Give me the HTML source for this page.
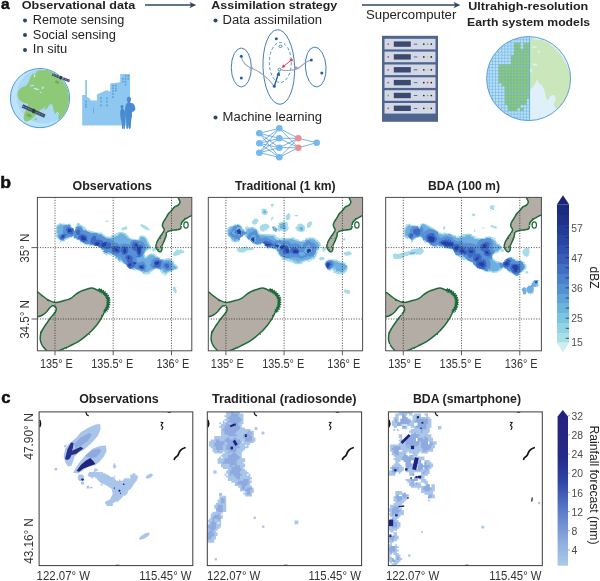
<!DOCTYPE html><html><head><meta charset="utf-8"><title>Figure</title><style>html,body{margin:0;padding:0;background:#fff}svg{display:block}text{font-family:'Liberation Sans', sans-serif}</style></head><body>
<svg width="600" height="581" viewBox="0 0 600 581">
<defs><filter id="bl" x="-10%" y="-10%" width="120%" height="120%"><feTurbulence type="fractalNoise" baseFrequency="0.11" numOctaves="1" seed="7" result="n"/><feDisplacementMap in="SourceGraphic" in2="n" scale="6" xChannelSelector="R" yChannelSelector="G" result="d"/><feGaussianBlur in="d" stdDeviation="0.6"/></filter><filter id="rough" x="-5%" y="-5%" width="110%" height="110%"><feTurbulence type="fractalNoise" baseFrequency="0.35" numOctaves="2" seed="4" result="n"/><feDisplacementMap in="SourceGraphic" in2="n" scale="1.8" xChannelSelector="R" yChannelSelector="G"/></filter><filter id="bl2"><feGaussianBlur stdDeviation="0.35"/></filter></defs>
<rect width="600" height="581" fill="#fff"/>
<text x="0.9" y="9.3" font-size="15.5" fill="#111" textLength="8.6" lengthAdjust="spacingAndGlyphs" font-weight="700" stroke="#111" stroke-width="0.5">a</text>
<text x="21.7" y="9.3" font-size="11.6" fill="#222" textLength="113.5" lengthAdjust="spacingAndGlyphs" font-weight="700" >Observational data</text>
<circle cx="25" cy="20.4" r="2" fill="#2f4468"/>
<text x="32.8" y="23.8" font-size="12.0" fill="#222" textLength="91.5" lengthAdjust="spacingAndGlyphs" >Remote sensing</text>
<circle cx="25" cy="35.1" r="2" fill="#2f4468"/>
<text x="32.8" y="38.5" font-size="12.0" fill="#222" textLength="83.0" lengthAdjust="spacingAndGlyphs" >Social sensing</text>
<circle cx="25" cy="49.9" r="2" fill="#2f4468"/>
<text x="32.8" y="53.3" font-size="12.0" fill="#222" textLength="34.5" lengthAdjust="spacingAndGlyphs" >In situ</text>
<path d="M145.0 5.1 H194.2" stroke="#2f4468" stroke-width="1.5" fill="none"/>
<path d="M196.2 5.1 L189.4 1.9 L191.2 5.1 L189.4 8.3 Z" fill="#2f4468"/>
<path d="M362.0 5.1 H458.3" stroke="#2f4468" stroke-width="1.5" fill="none"/>
<path d="M460.3 5.1 L453.5 1.9 L455.3 5.1 L453.5 8.3 Z" fill="#2f4468"/>
<text x="211.3" y="9.3" font-size="11.6" fill="#222" textLength="126.0" lengthAdjust="spacingAndGlyphs" font-weight="700" >Assimilation strategy</text>
<circle cx="215.5" cy="20.4" r="2" fill="#2f4468"/>
<text x="222.5" y="23.8" font-size="12.0" fill="#222" textLength="99.5" lengthAdjust="spacingAndGlyphs" >Data assimilation</text>
<circle cx="215.5" cy="117.4" r="2" fill="#2f4468"/>
<text x="222.5" y="121.0" font-size="12.0" fill="#222" textLength="99.5" lengthAdjust="spacingAndGlyphs" >Machine learning</text>
<text x="366.0" y="19.1" font-size="12.0" fill="#222" textLength="90.3" lengthAdjust="spacingAndGlyphs" >Supercomputer</text>
<text x="468.3" y="10.1" font-size="11.6" fill="#222" textLength="120.0" lengthAdjust="spacingAndGlyphs" font-weight="700" >Ultrahigh-resolution</text>
<text x="467.1" y="25.5" font-size="11.6" fill="#222" textLength="123.0" lengthAdjust="spacingAndGlyphs" font-weight="700" >Earth system models</text>
<g>
<circle cx="40" cy="98.1" r="29.6" fill="#bfe3f8" stroke="#4a9bdc" stroke-width="1"/>
<clipPath id="g1"><circle cx="40" cy="98.1" r="29.1"/></clipPath>
<g clip-path="url(#g1)">
<circle cx="44" cy="96" r="27.5" fill="#a9d9f5"/>
<path d="M28.2 82.7 C29.0 81.5 29.5 79.7 30.1 78.3 C30.8 77.0 31.1 75.4 32.0 74.6 C33.0 73.7 34.8 73.9 35.8 73.3 C36.7 72.7 36.5 71.3 37.7 70.8 C38.8 70.3 41.0 70.3 42.7 70.2 C44.4 70.0 46.2 69.6 47.7 69.8 C49.2 70.0 50.2 70.7 51.5 71.4 C52.7 72.1 53.8 72.8 55.3 73.9 C56.7 75.1 58.6 76.6 60.3 78.3 C62.0 80.1 63.9 82.5 65.3 84.6 C66.7 86.7 67.7 88.8 68.4 90.9 C69.2 93.0 69.6 95.1 69.7 97.2 C69.8 99.3 69.5 101.4 69.1 103.5 C68.7 105.6 68.0 107.9 67.2 109.7 C66.3 111.6 65.1 113.1 64.0 114.8 C63.0 116.4 61.7 118.8 60.9 119.8 C60.1 120.7 59.4 120.9 59.0 120.4 C58.6 119.9 58.4 117.8 58.4 116.6 C58.4 115.5 59.2 114.3 59.0 113.5 C58.8 112.7 57.7 111.5 57.1 111.6 C56.5 111.7 56.0 114.1 55.5 114.1 C55.0 114.1 54.4 112.8 54.0 111.6 C53.6 110.5 53.4 108.5 53.0 107.2 C52.6 106.0 52.1 104.4 51.5 104.1 C50.9 103.8 50.0 104.6 49.2 105.3 C48.5 106.1 47.9 107.7 47.1 108.5 C46.3 109.2 44.8 110.2 44.6 109.7 C44.4 109.3 45.9 106.3 45.8 106.0 C45.7 105.7 44.8 107.2 43.9 107.9 C43.1 108.5 41.9 109.0 40.8 109.7 C39.8 110.5 38.6 111.3 37.7 112.3 C36.7 113.2 36.1 114.3 35.2 115.4 C34.2 116.5 33.1 117.9 32.0 118.8 C31.0 119.7 30.0 120.4 28.9 120.8 C27.7 121.2 26.0 121.9 25.1 121.3 C24.2 120.7 23.6 118.8 23.6 117.3 C23.6 115.8 24.3 113.5 24.8 112.3 C25.4 111.0 26.4 110.5 27.0 109.5 C27.6 108.4 28.3 107.0 28.2 106.0 C28.2 105.0 27.3 104.0 26.6 103.5 C25.9 102.9 25.0 103.5 23.8 102.8 C22.7 102.2 20.5 100.9 19.4 99.7 C18.4 98.4 17.8 96.7 17.6 95.3 C17.4 93.9 17.6 92.8 18.2 91.5 C18.8 90.3 20.1 88.7 21.3 87.8 C22.6 86.8 24.6 86.7 25.7 85.9 C26.9 85.0 27.5 84.0 28.2 82.7Z" fill="#8dc977"/>
<g fill="#c4e5f6">
<ellipse cx="32.0" cy="85.6" rx="2.5" ry="0.6" transform="rotate(-10 32.0 85.6)"/>
<ellipse cx="36.4" cy="89.0" rx="3.0" ry="0.8" transform="rotate(15 36.4 89.0)"/>
<ellipse cx="42.7" cy="87.8" rx="0.9" ry="1.5" transform="rotate(20 42.7 87.8)"/>
<ellipse cx="40.8" cy="92.4" rx="1.0" ry="0.6" transform="rotate(0 40.8 92.4)"/>
<ellipse cx="34.5" cy="75.8" rx="0.8" ry="1.8" transform="rotate(10 34.5 75.8)"/>
</g>
<g fill="#8dc977">
<ellipse cx="35.8" cy="119.2" rx="1.5" ry="0.9" transform="rotate(-30 35.8 119.2)"/>
</g>
<g fill="#6fae5e">
<ellipse cx="57.1" cy="82.1" rx="2.3" ry="1.5" transform="rotate(20 57.1 82.1)"/>
<ellipse cx="28.9" cy="115.4" rx="2.8" ry="1.5" transform="rotate(20 28.9 115.4)"/>
</g>
</g>
<g transform="translate(60.9 77.7) rotate(21.0)">
<rect x="-9.3" y="-1.3" width="7.1" height="2.6" fill="#3f4a68"/>
<rect x="2.2" y="-1.3" width="7.1" height="2.6" fill="#3f4a68"/>
<path d="M-8.5 0 H-2.5 M2.5 0 H8.5" stroke="#b6bdd2" stroke-width="0.7" stroke-dasharray="0.9 0.9"/>
<circle r="1.8" fill="#2f3854"/>
</g>
<g transform="translate(33.6 111.0) rotate(24.5)">
<rect x="-12.3" y="-1.8" width="10.1" height="3.6" fill="#3f4a68"/>
<rect x="2.2" y="-1.8" width="10.1" height="3.6" fill="#3f4a68"/>
<path d="M-11.5 0 H-2.5 M2.5 0 H11.5" stroke="#b6bdd2" stroke-width="0.7" stroke-dasharray="0.9 0.9"/>
<circle r="2.3" fill="#2f3854"/>
</g>
</g>
<path d="M82.2 125.5 L82.2 95.0 L85.2 95.0 L85.2 80.1 L87.0 80.1 L87.0 96.9 L89.0 97.7 L91.0 100.5 L96.9 100.5 L96.9 94.4 L106.9 90.0 L110.2 91.7 L110.2 83.4 L120.2 82.3 L120.2 74.1 L130.0 74.1 L130.0 125.5Z" fill="#8ec7ef"/>
<rect x="124.8" y="75.1" width="1.6" height="1.7" fill="#5a9ddd"/>
<rect x="127.5" y="75.1" width="1.6" height="1.7" fill="#5a9ddd"/>
<rect x="122.1" y="77.9" width="1.6" height="1.7" fill="#5a9ddd"/>
<rect x="124.8" y="77.9" width="1.6" height="1.7" fill="#5a9ddd"/>
<rect x="127.5" y="77.9" width="1.6" height="1.7" fill="#5a9ddd"/>
<rect x="122.1" y="80.8" width="1.6" height="1.7" fill="#5a9ddd"/>
<rect x="124.8" y="80.8" width="1.6" height="1.7" fill="#5a9ddd"/>
<rect x="124.8" y="83.7" width="1.6" height="1.7" fill="#5a9ddd"/>
<rect x="112.2" y="84.8" width="1.6" height="1.7" fill="#5a9ddd"/>
<rect x="115.0" y="84.8" width="1.6" height="1.7" fill="#5a9ddd"/>
<rect x="112.2" y="87.5" width="1.6" height="1.7" fill="#5a9ddd"/>
<rect x="115.0" y="87.5" width="1.6" height="1.7" fill="#5a9ddd"/>
<rect x="112.2" y="90.3" width="1.6" height="1.7" fill="#5a9ddd"/>
<rect x="115.0" y="89.7" width="1.6" height="1.7" fill="#5a9ddd"/>
<rect x="112.2" y="93.0" width="1.6" height="1.7" fill="#5a9ddd"/>
<rect x="112.2" y="96.3" width="1.6" height="1.7" fill="#5a9ddd"/>
<rect x="100.3" y="97.4" width="1.6" height="1.7" fill="#5a9ddd"/>
<rect x="106.1" y="97.4" width="1.6" height="1.7" fill="#5a9ddd"/>
<rect x="100.3" y="100.7" width="1.6" height="1.7" fill="#5a9ddd"/>
<rect x="106.1" y="100.7" width="1.6" height="1.7" fill="#5a9ddd"/>
<rect x="100.3" y="104.6" width="1.6" height="1.7" fill="#5a9ddd"/>
<rect x="106.1" y="104.6" width="1.6" height="1.7" fill="#5a9ddd"/>
<rect x="85.1" y="100.7" width="1.6" height="1.7" fill="#5a9ddd"/>
<rect x="85.1" y="103.5" width="1.6" height="1.7" fill="#5a9ddd"/>
<rect x="85.1" y="105.9" width="1.6" height="1.7" fill="#5a9ddd"/>
<rect x="93.1" y="107.5" width="0.7" height="5.6" fill="#5a9ddd"/>
<path d="M126.5 128.0 C126.1 126.8 126.4 122.8 126.2 120.9 C126.1 118.9 125.8 117.9 125.6 116.5 C125.4 115.0 125.2 113.7 125.1 112.1 C125.1 110.4 125.1 108.0 125.4 106.5 C125.6 105.1 126.1 104.2 126.5 103.5 C126.9 102.8 127.7 102.9 127.8 102.4 C127.9 101.9 127.0 101.2 126.9 100.5 C126.8 99.8 126.8 98.9 127.0 98.3 C127.2 97.7 127.7 97.2 128.1 97.0 C128.6 96.7 129.3 96.7 129.8 97.0 C130.2 97.2 130.7 97.7 130.9 98.3 C131.0 98.9 131.0 99.8 130.9 100.5 C130.8 101.2 129.8 101.9 130.2 102.4 C130.6 102.9 132.3 102.9 133.1 103.5 C133.8 104.1 134.4 105.0 134.7 106.0 C135.1 107.0 135.5 108.4 135.3 109.3 C135.1 110.2 134.1 111.0 133.6 111.5 C133.1 112.0 132.5 111.2 132.2 112.1 C131.9 112.9 132.1 115.0 132.0 116.5 C131.8 117.9 131.3 118.9 131.1 120.9 C130.9 122.8 131.0 126.8 130.6 128.0 C130.2 129.2 129.0 129.4 128.7 128.0 C128.3 126.6 128.5 119.8 128.4 119.8 C128.3 119.8 128.4 126.6 128.1 128.0 C127.8 129.4 126.8 129.2 126.5 128.0Z" fill="#4a8bd0"/>
<path d="M122.1 128.4 C121.8 127.5 122.1 124.7 121.8 123.1 C121.6 121.5 121.0 120.1 120.7 118.7 C120.5 117.2 120.2 115.6 120.2 114.3 C120.1 112.9 120.2 111.3 120.4 110.4 C120.6 109.5 121.2 109.2 121.3 108.7 C121.3 108.3 120.7 107.9 120.6 107.4 C120.5 106.9 120.5 106.2 120.7 105.8 C120.9 105.4 121.4 104.9 121.8 104.9 C122.2 104.8 122.9 105.1 123.2 105.4 C123.4 105.8 123.5 106.6 123.5 107.1 C123.4 107.6 122.8 108.1 122.9 108.5 C123.1 109.0 123.8 108.9 124.3 109.9 C124.7 110.8 125.4 112.6 125.6 114.3 C125.8 115.9 125.5 117.4 125.4 119.8 C125.2 122.1 125.1 126.9 124.8 128.4 C124.5 129.8 123.9 129.4 123.7 128.4 C123.5 127.3 123.5 122.0 123.4 122.0 C123.3 122.0 123.4 127.3 123.2 128.4 C122.9 129.4 122.3 129.2 122.1 128.4Z" fill="#4a8bd0"/>
<g fill="none" stroke="#2e72b5" stroke-width="0.9">
<ellipse cx="241.3" cy="67.5" rx="10" ry="19.5"/>
<ellipse cx="278.8" cy="67" rx="15.8" ry="37.3" transform="rotate(-2 278.8 67)"/>
<ellipse cx="315.7" cy="67" rx="10.3" ry="20" transform="rotate(-4 315.7 67)"/>
<ellipse cx="280.3" cy="62.5" rx="11" ry="20" stroke-dasharray="3 2.2" stroke="#3a86c4"/>
</g>
<g fill="none" stroke="#9aa0bf" stroke-width="1.1">
<path d="M241.3 56.3 C242 62 246 66 252 68.5 C262 72 268 78 274.3 86.3"/>
<path d="M279.5 69.5 C286 71.5 296 70.5 300 67 C304 63.5 307 61 311.3 60"/>
</g>
<path d="M253.5 69 L249 69.5 L251.5 65.5Z" fill="#9aa0bf"/>
<path d="M298.2 67.6 L294.2 65.6 L294.6 70Z" fill="#9aa0bf"/>
<path d="M274.3 86.3 L278.6 73" stroke="#1f5fa8" stroke-width="1.3" fill="none"/>
<path d="M279.2 71 L276.4 75 L280.2 76Z" fill="#1f5fa8"/>
<path d="M291.3 60 L283 66.8" stroke="#e0454f" stroke-width="1" fill="none"/>
<path d="M281.5 68 L285.5 67 L283.3 64.3Z" fill="#e0454f"/>
<circle cx="241.3" cy="56.3" r="1.5" fill="#1f5fa8"/>
<circle cx="241.3" cy="78.0" r="1.5" fill="#1f5fa8"/>
<circle cx="276.3" cy="38.8" r="1.5" fill="#1f5fa8"/>
<circle cx="274.3" cy="86.3" r="1.5" fill="#1f5fa8"/>
<circle cx="311.3" cy="60.0" r="1.5" fill="#1f5fa8"/>
<circle cx="321.8" cy="73.0" r="1.5" fill="#1f5fa8"/>
<circle cx="291.3" cy="60" r="1.6" fill="#e0454f"/>
<ellipse cx="280.5" cy="46.3" rx="1.6" ry="1.2" fill="#fff" stroke="#1f5fa8" stroke-width="0.7"/>
<circle cx="279.5" cy="69.5" r="1.4" fill="#fff" stroke="#1f5fa8" stroke-width="0.7"/>
<g stroke="#3f8fd6" stroke-width="0.7">
<line x1="259.3" y1="133.3" x2="279.3" y2="128.3"/>
<line x1="259.3" y1="133.3" x2="279.3" y2="138.3"/>
<line x1="259.3" y1="133.3" x2="279.3" y2="147.7"/>
<line x1="259.3" y1="133.3" x2="279.3" y2="157.3"/>
<line x1="259.3" y1="143.3" x2="279.3" y2="128.3"/>
<line x1="259.3" y1="143.3" x2="279.3" y2="138.3"/>
<line x1="259.3" y1="143.3" x2="279.3" y2="147.7"/>
<line x1="259.3" y1="143.3" x2="279.3" y2="157.3"/>
<line x1="259.3" y1="152.7" x2="279.3" y2="128.3"/>
<line x1="259.3" y1="152.7" x2="279.3" y2="138.3"/>
<line x1="259.3" y1="152.7" x2="279.3" y2="147.7"/>
<line x1="259.3" y1="152.7" x2="279.3" y2="157.3"/>
<line x1="279.3" y1="128.3" x2="298.3" y2="138.3"/>
<line x1="279.3" y1="128.3" x2="298.3" y2="147.7"/>
<line x1="279.3" y1="138.3" x2="298.3" y2="138.3"/>
<line x1="279.3" y1="138.3" x2="298.3" y2="147.7"/>
<line x1="279.3" y1="147.7" x2="298.3" y2="138.3"/>
<line x1="279.3" y1="147.7" x2="298.3" y2="147.7"/>
<line x1="279.3" y1="157.3" x2="298.3" y2="138.3"/>
<line x1="279.3" y1="157.3" x2="298.3" y2="147.7"/>
<line x1="298.3" y1="138.3" x2="316.7" y2="142.7"/>
<line x1="298.3" y1="147.7" x2="316.7" y2="142.7"/>
</g>
<circle cx="259.3" cy="133.3" r="3.3" fill="#74b9ec"/>
<circle cx="259.3" cy="143.3" r="3.3" fill="#74b9ec"/>
<circle cx="259.3" cy="152.7" r="3.3" fill="#74b9ec"/>
<circle cx="279.3" cy="128.3" r="3.3" fill="#74b9ec"/>
<circle cx="279.3" cy="138.3" r="3.3" fill="#74b9ec"/>
<circle cx="279.3" cy="147.7" r="3.3" fill="#74b9ec"/>
<circle cx="279.3" cy="157.3" r="3.3" fill="#74b9ec"/>
<circle cx="316.7" cy="142.7" r="3.3" fill="#74b9ec"/>
<circle cx="298.3" cy="138.3" r="3.3" fill="#ec8f93"/>
<circle cx="298.3" cy="147.7" r="3.3" fill="#ec8f93"/>
<rect x="382" y="35.8" width="56" height="86" fill="#4f648f"/>
<rect x="384.5" y="38.8" width="51" height="10.6" fill="#d3d8e6"/>
<circle cx="388.2" cy="44.1" r="0.9" fill="#e0454f"/>
<rect x="393.8" y="41.4" width="17" height="5.4" fill="#3b4a6e"/>
<rect x="413.8" y="43.7" width="3.6" height="0.9" fill="#4f648f"/>
<circle cx="423.8" cy="44.1" r="0.85" fill="#222"/>
<circle cx="427.6" cy="44.1" r="0.85" fill="#5cc05c"/>
<circle cx="431.3" cy="44.1" r="0.85" fill="#222"/>
<rect x="384.5" y="51.6" width="51" height="10.6" fill="#d3d8e6"/>
<circle cx="388.2" cy="56.9" r="0.9" fill="#e0454f"/>
<rect x="393.8" y="54.2" width="17" height="5.4" fill="#3b4a6e"/>
<rect x="413.8" y="56.5" width="3.6" height="0.9" fill="#4f648f"/>
<circle cx="423.8" cy="56.9" r="0.85" fill="#222"/>
<circle cx="427.6" cy="56.9" r="0.85" fill="#e8c84a"/>
<circle cx="431.3" cy="56.9" r="0.85" fill="#222"/>
<rect x="384.5" y="64.5" width="51" height="10.6" fill="#d3d8e6"/>
<circle cx="388.2" cy="69.8" r="0.9" fill="#e0454f"/>
<rect x="393.8" y="67.1" width="17" height="5.4" fill="#3b4a6e"/>
<rect x="413.8" y="69.4" width="3.6" height="0.9" fill="#4f648f"/>
<circle cx="423.8" cy="69.8" r="0.85" fill="#222"/>
<circle cx="427.6" cy="69.8" r="0.85" fill="#e8c84a"/>
<circle cx="431.3" cy="69.8" r="0.85" fill="#222"/>
<rect x="384.5" y="77.3" width="51" height="10.6" fill="#d3d8e6"/>
<circle cx="388.2" cy="82.6" r="0.9" fill="#e0454f"/>
<rect x="393.8" y="79.9" width="17" height="5.4" fill="#3b4a6e"/>
<rect x="413.8" y="82.2" width="3.6" height="0.9" fill="#4f648f"/>
<circle cx="423.8" cy="82.6" r="0.85" fill="#222"/>
<circle cx="427.6" cy="82.6" r="0.85" fill="#e0454f"/>
<circle cx="431.3" cy="82.6" r="0.85" fill="#222"/>
<rect x="384.5" y="90.2" width="51" height="10.6" fill="#d3d8e6"/>
<circle cx="388.2" cy="95.5" r="0.9" fill="#5cc05c"/>
<rect x="393.8" y="92.8" width="17" height="5.4" fill="#3b4a6e"/>
<rect x="413.8" y="95.1" width="3.6" height="0.9" fill="#4f648f"/>
<circle cx="423.8" cy="95.5" r="0.85" fill="#222"/>
<circle cx="427.6" cy="95.5" r="0.85" fill="#5cc05c"/>
<circle cx="431.3" cy="95.5" r="0.85" fill="#222"/>
<rect x="384.5" y="103.0" width="51" height="10.6" fill="#d3d8e6"/>
<circle cx="388.2" cy="108.3" r="0.9" fill="#e0454f"/>
<rect x="393.8" y="105.6" width="17" height="5.4" fill="#3b4a6e"/>
<rect x="413.8" y="108.0" width="3.6" height="0.9" fill="#4f648f"/>
<circle cx="423.8" cy="108.3" r="0.85" fill="#222"/>
<circle cx="427.6" cy="108.3" r="0.85" fill="#e8c84a"/>
<circle cx="431.3" cy="108.3" r="0.85" fill="#222"/>
<clipPath id="g2"><circle cx="528.6" cy="78.6" r="42.0"/></clipPath>
<clipPath id="g2l"><rect x="480" y="30" width="49.6" height="100"/></clipPath>
<g clip-path="url(#g2)">
<rect x="480" y="30" width="100" height="100" fill="#e0f0fb"/>
<rect x="480" y="30" width="49.6" height="100" fill="#b9e0f6"/>
<path d="M529.7 41.7 C530.6 33.6 533.0 39.9 535.0 39.7 C537.0 39.4 539.2 39.2 541.7 40.0 C544.2 40.8 547.2 42.2 550.0 44.2 C552.8 46.1 555.8 48.8 558.3 51.7 C560.8 54.6 563.2 58.3 565.0 61.7 C566.8 65.0 568.3 68.1 569.2 71.7 C570.0 75.3 570.3 79.4 570.0 83.3 C569.7 87.2 568.6 91.7 567.5 95.0 C566.4 98.3 564.9 101.1 563.3 103.3 C561.8 105.6 559.7 108.0 558.3 108.7 C556.9 109.4 555.7 108.4 555.0 107.5 C554.3 106.6 554.0 104.9 554.2 103.3 C554.3 101.8 556.0 99.7 555.8 98.3 C555.7 96.9 554.3 95.3 553.3 95.0 C552.4 94.7 551.0 95.8 550.0 96.7 C549.0 97.6 548.2 100.3 547.5 100.3 C546.8 100.3 546.4 98.4 545.8 96.7 C545.3 94.9 544.9 91.9 544.2 90.0 C543.5 88.1 542.6 86.1 541.7 85.0 C540.8 83.9 539.4 84.2 538.7 83.3 C538.0 82.4 538.0 79.8 537.5 79.7 C537.0 79.5 536.5 81.3 535.8 82.5 C535.1 83.7 534.2 85.6 533.3 86.7 C532.5 87.7 531.4 88.4 530.8 88.7 C530.2 88.9 529.9 96.2 529.7 88.3 C529.5 80.5 528.8 49.8 529.7 41.7Z" fill="#c9e7ba"/>
<g fill="#e0f0fb">
<ellipse cx="534.2" cy="47.2" rx="2.7" ry="0.8" transform="rotate(-15 534.2 47.2)"/>
<ellipse cx="535.0" cy="64.7" rx="2.7" ry="1.0" transform="rotate(10 535.0 64.7)"/>
<ellipse cx="530.8" cy="70.8" rx="1.0" ry="2.0" transform="rotate(0 530.8 70.8)"/>
<ellipse cx="538.7" cy="51.7" rx="0.8" ry="1.7" transform="rotate(20 538.7 51.7)"/>
</g>
<g clip-path="url(#g2l)" fill="#8fcb70">
<rect x="526.50" y="42.80" width="3.15" height="3.15"/>
<rect x="523.40" y="42.80" width="3.15" height="3.15"/>
<rect x="517.20" y="42.80" width="3.15" height="3.15"/>
<rect x="514.10" y="42.80" width="3.15" height="3.15"/>
<rect x="526.50" y="45.90" width="3.15" height="3.15"/>
<rect x="523.40" y="45.90" width="3.15" height="3.15"/>
<rect x="517.20" y="45.90" width="3.15" height="3.15"/>
<rect x="514.10" y="45.90" width="3.15" height="3.15"/>
<rect x="526.50" y="49.00" width="3.15" height="3.15"/>
<rect x="523.40" y="49.00" width="3.15" height="3.15"/>
<rect x="520.30" y="49.00" width="3.15" height="3.15"/>
<rect x="517.20" y="49.00" width="3.15" height="3.15"/>
<rect x="514.10" y="49.00" width="3.15" height="3.15"/>
<rect x="526.50" y="52.10" width="3.15" height="3.15"/>
<rect x="523.40" y="52.10" width="3.15" height="3.15"/>
<rect x="520.30" y="52.10" width="3.15" height="3.15"/>
<rect x="517.20" y="52.10" width="3.15" height="3.15"/>
<rect x="514.10" y="52.10" width="3.15" height="3.15"/>
<rect x="526.50" y="55.20" width="3.15" height="3.15"/>
<rect x="523.40" y="55.20" width="3.15" height="3.15"/>
<rect x="520.30" y="55.20" width="3.15" height="3.15"/>
<rect x="517.20" y="55.20" width="3.15" height="3.15"/>
<rect x="514.10" y="55.20" width="3.15" height="3.15"/>
<rect x="511.00" y="55.20" width="3.15" height="3.15"/>
<rect x="526.50" y="58.30" width="3.15" height="3.15"/>
<rect x="523.40" y="58.30" width="3.15" height="3.15"/>
<rect x="520.30" y="58.30" width="3.15" height="3.15"/>
<rect x="517.20" y="58.30" width="3.15" height="3.15"/>
<rect x="514.10" y="58.30" width="3.15" height="3.15"/>
<rect x="511.00" y="58.30" width="3.15" height="3.15"/>
<rect x="526.50" y="61.40" width="3.15" height="3.15"/>
<rect x="523.40" y="61.40" width="3.15" height="3.15"/>
<rect x="520.30" y="61.40" width="3.15" height="3.15"/>
<rect x="517.20" y="61.40" width="3.15" height="3.15"/>
<rect x="514.10" y="61.40" width="3.15" height="3.15"/>
<rect x="511.00" y="61.40" width="3.15" height="3.15"/>
<rect x="526.50" y="64.50" width="3.15" height="3.15"/>
<rect x="523.40" y="64.50" width="3.15" height="3.15"/>
<rect x="520.30" y="64.50" width="3.15" height="3.15"/>
<rect x="517.20" y="64.50" width="3.15" height="3.15"/>
<rect x="514.10" y="64.50" width="3.15" height="3.15"/>
<rect x="511.00" y="64.50" width="3.15" height="3.15"/>
<rect x="507.90" y="64.50" width="3.15" height="3.15"/>
<rect x="504.80" y="64.50" width="3.15" height="3.15"/>
<rect x="501.70" y="64.50" width="3.15" height="3.15"/>
<rect x="498.60" y="64.50" width="3.15" height="3.15"/>
<rect x="526.50" y="67.60" width="3.15" height="3.15"/>
<rect x="523.40" y="67.60" width="3.15" height="3.15"/>
<rect x="520.30" y="67.60" width="3.15" height="3.15"/>
<rect x="517.20" y="67.60" width="3.15" height="3.15"/>
<rect x="514.10" y="67.60" width="3.15" height="3.15"/>
<rect x="511.00" y="67.60" width="3.15" height="3.15"/>
<rect x="507.90" y="67.60" width="3.15" height="3.15"/>
<rect x="504.80" y="67.60" width="3.15" height="3.15"/>
<rect x="501.70" y="67.60" width="3.15" height="3.15"/>
<rect x="498.60" y="67.60" width="3.15" height="3.15"/>
<rect x="526.50" y="70.70" width="3.15" height="3.15"/>
<rect x="523.40" y="70.70" width="3.15" height="3.15"/>
<rect x="520.30" y="70.70" width="3.15" height="3.15"/>
<rect x="517.20" y="70.70" width="3.15" height="3.15"/>
<rect x="514.10" y="70.70" width="3.15" height="3.15"/>
<rect x="511.00" y="70.70" width="3.15" height="3.15"/>
<rect x="507.90" y="70.70" width="3.15" height="3.15"/>
<rect x="504.80" y="70.70" width="3.15" height="3.15"/>
<rect x="501.70" y="70.70" width="3.15" height="3.15"/>
<rect x="498.60" y="70.70" width="3.15" height="3.15"/>
<rect x="526.50" y="73.80" width="3.15" height="3.15"/>
<rect x="523.40" y="73.80" width="3.15" height="3.15"/>
<rect x="520.30" y="73.80" width="3.15" height="3.15"/>
<rect x="517.20" y="73.80" width="3.15" height="3.15"/>
<rect x="514.10" y="73.80" width="3.15" height="3.15"/>
<rect x="511.00" y="73.80" width="3.15" height="3.15"/>
<rect x="507.90" y="73.80" width="3.15" height="3.15"/>
<rect x="504.80" y="73.80" width="3.15" height="3.15"/>
<rect x="501.70" y="73.80" width="3.15" height="3.15"/>
<rect x="498.60" y="73.80" width="3.15" height="3.15"/>
<rect x="526.50" y="76.90" width="3.15" height="3.15"/>
<rect x="523.40" y="76.90" width="3.15" height="3.15"/>
<rect x="520.30" y="76.90" width="3.15" height="3.15"/>
<rect x="517.20" y="76.90" width="3.15" height="3.15"/>
<rect x="514.10" y="76.90" width="3.15" height="3.15"/>
<rect x="511.00" y="76.90" width="3.15" height="3.15"/>
<rect x="507.90" y="76.90" width="3.15" height="3.15"/>
<rect x="504.80" y="76.90" width="3.15" height="3.15"/>
<rect x="501.70" y="76.90" width="3.15" height="3.15"/>
<rect x="498.60" y="76.90" width="3.15" height="3.15"/>
<rect x="526.50" y="80.00" width="3.15" height="3.15"/>
<rect x="523.40" y="80.00" width="3.15" height="3.15"/>
<rect x="520.30" y="80.00" width="3.15" height="3.15"/>
<rect x="517.20" y="80.00" width="3.15" height="3.15"/>
<rect x="514.10" y="80.00" width="3.15" height="3.15"/>
<rect x="511.00" y="80.00" width="3.15" height="3.15"/>
<rect x="507.90" y="80.00" width="3.15" height="3.15"/>
<rect x="504.80" y="80.00" width="3.15" height="3.15"/>
<rect x="501.70" y="80.00" width="3.15" height="3.15"/>
<rect x="498.60" y="80.00" width="3.15" height="3.15"/>
<rect x="526.50" y="83.10" width="3.15" height="3.15"/>
<rect x="523.40" y="83.10" width="3.15" height="3.15"/>
<rect x="520.30" y="83.10" width="3.15" height="3.15"/>
<rect x="517.20" y="83.10" width="3.15" height="3.15"/>
<rect x="514.10" y="83.10" width="3.15" height="3.15"/>
<rect x="511.00" y="83.10" width="3.15" height="3.15"/>
<rect x="507.90" y="83.10" width="3.15" height="3.15"/>
<rect x="504.80" y="83.10" width="3.15" height="3.15"/>
<rect x="501.70" y="83.10" width="3.15" height="3.15"/>
<rect x="526.50" y="86.20" width="3.15" height="3.15"/>
<rect x="523.40" y="86.20" width="3.15" height="3.15"/>
<rect x="520.30" y="86.20" width="3.15" height="3.15"/>
<rect x="517.20" y="86.20" width="3.15" height="3.15"/>
<rect x="514.10" y="86.20" width="3.15" height="3.15"/>
<rect x="511.00" y="86.20" width="3.15" height="3.15"/>
<rect x="507.90" y="86.20" width="3.15" height="3.15"/>
<rect x="504.80" y="86.20" width="3.15" height="3.15"/>
<rect x="526.50" y="89.30" width="3.15" height="3.15"/>
<rect x="523.40" y="89.30" width="3.15" height="3.15"/>
<rect x="520.30" y="89.30" width="3.15" height="3.15"/>
<rect x="517.20" y="89.30" width="3.15" height="3.15"/>
<rect x="514.10" y="89.30" width="3.15" height="3.15"/>
<rect x="511.00" y="89.30" width="3.15" height="3.15"/>
<rect x="507.90" y="89.30" width="3.15" height="3.15"/>
<rect x="504.80" y="89.30" width="3.15" height="3.15"/>
<rect x="526.50" y="92.40" width="3.15" height="3.15"/>
<rect x="523.40" y="92.40" width="3.15" height="3.15"/>
<rect x="520.30" y="92.40" width="3.15" height="3.15"/>
<rect x="517.20" y="92.40" width="3.15" height="3.15"/>
<rect x="514.10" y="92.40" width="3.15" height="3.15"/>
<rect x="511.00" y="92.40" width="3.15" height="3.15"/>
<rect x="507.90" y="92.40" width="3.15" height="3.15"/>
<rect x="504.80" y="92.40" width="3.15" height="3.15"/>
<rect x="526.50" y="95.50" width="3.15" height="3.15"/>
<rect x="523.40" y="95.50" width="3.15" height="3.15"/>
<rect x="520.30" y="95.50" width="3.15" height="3.15"/>
<rect x="517.20" y="95.50" width="3.15" height="3.15"/>
<rect x="514.10" y="95.50" width="3.15" height="3.15"/>
<rect x="511.00" y="95.50" width="3.15" height="3.15"/>
<rect x="507.90" y="95.50" width="3.15" height="3.15"/>
<rect x="504.80" y="95.50" width="3.15" height="3.15"/>
<rect x="523.40" y="98.60" width="3.15" height="3.15"/>
<rect x="520.30" y="98.60" width="3.15" height="3.15"/>
<rect x="517.20" y="98.60" width="3.15" height="3.15"/>
<rect x="514.10" y="98.60" width="3.15" height="3.15"/>
<rect x="511.00" y="98.60" width="3.15" height="3.15"/>
<rect x="507.90" y="98.60" width="3.15" height="3.15"/>
<rect x="504.80" y="98.60" width="3.15" height="3.15"/>
<rect x="523.40" y="101.70" width="3.15" height="3.15"/>
<rect x="520.30" y="101.70" width="3.15" height="3.15"/>
<rect x="517.20" y="101.70" width="3.15" height="3.15"/>
<rect x="514.10" y="101.70" width="3.15" height="3.15"/>
<rect x="511.00" y="101.70" width="3.15" height="3.15"/>
<rect x="507.90" y="101.70" width="3.15" height="3.15"/>
<rect x="504.80" y="101.70" width="3.15" height="3.15"/>
<rect x="517.20" y="104.80" width="3.15" height="3.15"/>
<rect x="514.10" y="104.80" width="3.15" height="3.15"/>
<rect x="511.00" y="104.80" width="3.15" height="3.15"/>
<rect x="507.90" y="104.80" width="3.15" height="3.15"/>
<rect x="520.30" y="107.90" width="3.15" height="3.15"/>
<rect x="514.10" y="107.90" width="3.15" height="3.15"/>
<rect x="511.00" y="107.90" width="3.15" height="3.15"/>
<rect x="507.90" y="107.90" width="3.15" height="3.15"/>
</g>
<g stroke="#5aa3dc" stroke-width="0.5" clip-path="url(#g2l)" opacity="0.85">
<line x1="529.60" y1="30" x2="529.60" y2="125"/>
<line x1="526.50" y1="30" x2="526.50" y2="125"/>
<line x1="523.40" y1="30" x2="523.40" y2="125"/>
<line x1="520.30" y1="30" x2="520.30" y2="125"/>
<line x1="517.20" y1="30" x2="517.20" y2="125"/>
<line x1="514.10" y1="30" x2="514.10" y2="125"/>
<line x1="511.00" y1="30" x2="511.00" y2="125"/>
<line x1="507.90" y1="30" x2="507.90" y2="125"/>
<line x1="504.80" y1="30" x2="504.80" y2="125"/>
<line x1="501.70" y1="30" x2="501.70" y2="125"/>
<line x1="498.60" y1="30" x2="498.60" y2="125"/>
<line x1="495.50" y1="30" x2="495.50" y2="125"/>
<line x1="492.40" y1="30" x2="492.40" y2="125"/>
<line x1="489.30" y1="30" x2="489.30" y2="125"/>
<line x1="486.20" y1="30" x2="486.20" y2="125"/>
<line x1="480" y1="36.60" x2="529.60" y2="36.60"/>
<line x1="480" y1="39.70" x2="529.60" y2="39.70"/>
<line x1="480" y1="42.80" x2="529.60" y2="42.80"/>
<line x1="480" y1="45.90" x2="529.60" y2="45.90"/>
<line x1="480" y1="49.00" x2="529.60" y2="49.00"/>
<line x1="480" y1="52.10" x2="529.60" y2="52.10"/>
<line x1="480" y1="55.20" x2="529.60" y2="55.20"/>
<line x1="480" y1="58.30" x2="529.60" y2="58.30"/>
<line x1="480" y1="61.40" x2="529.60" y2="61.40"/>
<line x1="480" y1="64.50" x2="529.60" y2="64.50"/>
<line x1="480" y1="67.60" x2="529.60" y2="67.60"/>
<line x1="480" y1="70.70" x2="529.60" y2="70.70"/>
<line x1="480" y1="73.80" x2="529.60" y2="73.80"/>
<line x1="480" y1="76.90" x2="529.60" y2="76.90"/>
<line x1="480" y1="80.00" x2="529.60" y2="80.00"/>
<line x1="480" y1="83.10" x2="529.60" y2="83.10"/>
<line x1="480" y1="86.20" x2="529.60" y2="86.20"/>
<line x1="480" y1="89.30" x2="529.60" y2="89.30"/>
<line x1="480" y1="92.40" x2="529.60" y2="92.40"/>
<line x1="480" y1="95.50" x2="529.60" y2="95.50"/>
<line x1="480" y1="98.60" x2="529.60" y2="98.60"/>
<line x1="480" y1="101.70" x2="529.60" y2="101.70"/>
<line x1="480" y1="104.80" x2="529.60" y2="104.80"/>
<line x1="480" y1="107.90" x2="529.60" y2="107.90"/>
<line x1="480" y1="111.00" x2="529.60" y2="111.00"/>
<line x1="480" y1="114.10" x2="529.60" y2="114.10"/>
<line x1="480" y1="117.20" x2="529.60" y2="117.20"/>
<line x1="480" y1="120.30" x2="529.60" y2="120.30"/>
<line x1="480" y1="123.40" x2="529.60" y2="123.40"/>
</g>
<line x1="529.6" y1="30" x2="529.6" y2="125" stroke="#5aa3dc" stroke-width="0.8"/>
</g>
<circle cx="528.6" cy="78.6" r="42.0" fill="none" stroke="#5a9fdb" stroke-width="1"/>
<text x="0.3" y="188.3" font-size="17.0" fill="#111" textLength="10.8" lengthAdjust="spacingAndGlyphs" font-weight="700" stroke="#111" stroke-width="0.5">b</text>
<clipPath id="mb0"><rect x="37.4" y="197.4" width="154.4" height="153.4"/></clipPath>
<g clip-path="url(#mb0)">
<clipPath id="bc0">
<path d="M56.0 233.3 C56.0 231.8 56.4 229.4 57.3 228.0 C58.2 226.6 59.7 225.2 61.3 224.7 C63.0 224.1 65.7 224.2 67.3 224.7 C69.0 225.1 70.2 226.4 71.3 227.3 C72.4 228.2 73.1 230.2 74.0 230.0 C74.9 229.8 75.7 226.9 76.7 226.0 C77.7 225.1 78.8 224.3 80.0 224.7 C81.2 225.0 82.6 226.8 84.0 228.0 C85.4 229.2 87.0 231.1 88.7 232.0 C90.3 232.9 92.0 233.1 94.0 233.3 C96.0 233.6 98.9 232.9 100.7 233.3 C102.4 233.8 103.3 235.3 104.7 236.0 C106.0 236.7 107.8 237.0 108.7 237.3 C109.6 237.6 108.8 238.0 110.0 237.7 C111.2 237.5 113.9 236.3 115.7 235.6 C117.4 234.9 119.0 233.6 120.6 233.5 C122.3 233.4 123.8 234.2 125.6 234.9 C127.4 235.6 129.4 237.0 131.2 237.7 C133.1 238.5 135.5 239.4 136.9 239.2 C138.3 238.9 138.4 236.7 139.7 236.3 C141.0 236.0 143.4 236.3 144.7 237.0 C146.0 237.7 146.7 239.3 147.5 240.6 C148.4 241.9 149.2 243.5 149.7 244.8 C150.1 246.1 150.8 247.3 150.4 248.4 C149.9 249.4 147.9 250.4 146.8 251.2 C145.8 252.0 144.2 252.3 144.0 253.3 C143.8 254.4 144.7 257.2 145.4 257.6 C146.1 257.9 147.3 256.0 148.2 255.5 C149.2 254.9 149.9 254.0 151.1 254.0 C152.3 254.0 154.1 254.6 155.3 255.5 C156.5 256.3 156.7 258.3 158.2 259.0 C159.6 259.7 161.9 259.7 163.8 259.7 C165.7 259.7 167.8 258.5 169.5 259.0 C171.1 259.5 172.3 261.5 173.7 262.5 C175.2 263.6 177.3 264.4 178.0 265.4 C178.7 266.3 178.7 267.5 178.0 268.2 C177.3 268.9 175.2 269.0 173.7 269.6 C172.3 270.2 170.7 271.0 169.5 271.7 C168.3 272.5 167.7 273.7 166.7 273.9 C165.6 274.0 164.3 273.3 163.1 272.5 C161.9 271.6 160.9 269.6 159.6 268.9 C158.3 268.2 156.5 268.0 155.3 268.2 C154.1 268.4 153.7 269.6 152.5 270.3 C151.3 271.0 149.9 272.0 148.2 272.5 C146.6 272.9 144.2 273.4 142.6 273.2 C140.9 272.9 139.7 271.7 138.3 271.0 C136.9 270.3 135.6 269.5 134.1 268.9 C132.5 268.3 130.5 268.3 129.1 267.5 C127.7 266.7 126.9 265.0 125.6 264.0 C124.3 262.9 122.7 262.1 121.3 261.1 C119.9 260.2 118.5 259.2 117.1 258.3 C115.7 257.3 114.0 256.2 112.8 255.5 C111.7 254.7 110.9 254.4 110.0 254.0 C109.1 253.7 108.7 254.0 107.3 253.3 C106.0 252.7 103.8 251.1 102.0 250.0 C100.2 248.9 98.2 247.6 96.7 246.7 C95.1 245.8 94.4 244.9 92.7 244.7 C90.9 244.4 88.0 245.7 86.0 245.3 C84.0 245.0 82.2 243.8 80.7 242.7 C79.1 241.6 77.9 239.8 76.7 238.7 C75.4 237.6 74.4 236.1 73.3 236.0 C72.2 235.9 71.2 237.2 70.0 238.0 C68.8 238.8 67.4 240.3 66.0 240.7 C64.6 241.0 62.8 240.6 61.3 240.0 C59.9 239.4 58.2 238.4 57.3 237.3 C56.4 236.2 56.0 234.9 56.0 233.3Z"/>
<circle cx="68.7" cy="231.3" r="3.7"/>
<circle cx="62.7" cy="236.7" r="2.4"/>
<circle cx="82.7" cy="238.0" r="4.7"/>
<circle cx="78.7" cy="231.3" r="2.7"/>
<circle cx="94.0" cy="240.0" r="3.3"/>
<circle cx="99.3" cy="243.3" r="4.7"/>
<circle cx="107.3" cy="246.0" r="4.0"/>
<circle cx="115.7" cy="249.8" r="4.0"/>
<circle cx="124.2" cy="250.5" r="4.2"/>
<circle cx="137.6" cy="248.4" r="4.5"/>
<circle cx="129.8" cy="258.3" r="4.2"/>
<circle cx="131.2" cy="264.7" r="4.0"/>
<circle cx="140.5" cy="266.8" r="3.1"/>
<circle cx="157.5" cy="264.0" r="3.5"/>
<circle cx="166.7" cy="266.1" r="2.5"/>
<circle cx="134.8" cy="243.4" r="2.5"/>
</clipPath>
<g filter="url(#bl)">
<g fill="#a6dcea">
<circle cx="124.9" cy="228.5" r="2.5"/>
<ellipse cx="144.7" cy="227.1" rx="5.0" ry="1.7" transform="rotate(30 144.7 227.1)"/>
<circle cx="154.2" cy="249.8" r="2.1"/>
<ellipse cx="178.0" cy="252.6" rx="5.7" ry="2.5" transform="rotate(-25 178.0 252.6)"/>
<ellipse cx="175.4" cy="290.4" rx="2.1" ry="4.0" transform="rotate(-15 175.4 290.4)"/>
<ellipse cx="107.3" cy="222.0" rx="1.6" ry="0.8" transform="rotate(0 107.3 222.0)"/>
</g>
<path d="M56.0 233.3 C56.0 231.8 56.4 229.4 57.3 228.0 C58.2 226.6 59.7 225.2 61.3 224.7 C63.0 224.1 65.7 224.2 67.3 224.7 C69.0 225.1 70.2 226.4 71.3 227.3 C72.4 228.2 73.1 230.2 74.0 230.0 C74.9 229.8 75.7 226.9 76.7 226.0 C77.7 225.1 78.8 224.3 80.0 224.7 C81.2 225.0 82.6 226.8 84.0 228.0 C85.4 229.2 87.0 231.1 88.7 232.0 C90.3 232.9 92.0 233.1 94.0 233.3 C96.0 233.6 98.9 232.9 100.7 233.3 C102.4 233.8 103.3 235.3 104.7 236.0 C106.0 236.7 107.8 237.0 108.7 237.3 C109.6 237.6 108.8 238.0 110.0 237.7 C111.2 237.5 113.9 236.3 115.7 235.6 C117.4 234.9 119.0 233.6 120.6 233.5 C122.3 233.4 123.8 234.2 125.6 234.9 C127.4 235.6 129.4 237.0 131.2 237.7 C133.1 238.5 135.5 239.4 136.9 239.2 C138.3 238.9 138.4 236.7 139.7 236.3 C141.0 236.0 143.4 236.3 144.7 237.0 C146.0 237.7 146.7 239.3 147.5 240.6 C148.4 241.9 149.2 243.5 149.7 244.8 C150.1 246.1 150.8 247.3 150.4 248.4 C149.9 249.4 147.9 250.4 146.8 251.2 C145.8 252.0 144.2 252.3 144.0 253.3 C143.8 254.4 144.7 257.2 145.4 257.6 C146.1 257.9 147.3 256.0 148.2 255.5 C149.2 254.9 149.9 254.0 151.1 254.0 C152.3 254.0 154.1 254.6 155.3 255.5 C156.5 256.3 156.7 258.3 158.2 259.0 C159.6 259.7 161.9 259.7 163.8 259.7 C165.7 259.7 167.8 258.5 169.5 259.0 C171.1 259.5 172.3 261.5 173.7 262.5 C175.2 263.6 177.3 264.4 178.0 265.4 C178.7 266.3 178.7 267.5 178.0 268.2 C177.3 268.9 175.2 269.0 173.7 269.6 C172.3 270.2 170.7 271.0 169.5 271.7 C168.3 272.5 167.7 273.7 166.7 273.9 C165.6 274.0 164.3 273.3 163.1 272.5 C161.9 271.6 160.9 269.6 159.6 268.9 C158.3 268.2 156.5 268.0 155.3 268.2 C154.1 268.4 153.7 269.6 152.5 270.3 C151.3 271.0 149.9 272.0 148.2 272.5 C146.6 272.9 144.2 273.4 142.6 273.2 C140.9 272.9 139.7 271.7 138.3 271.0 C136.9 270.3 135.6 269.5 134.1 268.9 C132.5 268.3 130.5 268.3 129.1 267.5 C127.7 266.7 126.9 265.0 125.6 264.0 C124.3 262.9 122.7 262.1 121.3 261.1 C119.9 260.2 118.5 259.2 117.1 258.3 C115.7 257.3 114.0 256.2 112.8 255.5 C111.7 254.7 110.9 254.4 110.0 254.0 C109.1 253.7 108.7 254.0 107.3 253.3 C106.0 252.7 103.8 251.1 102.0 250.0 C100.2 248.9 98.2 247.6 96.7 246.7 C95.1 245.8 94.4 244.9 92.7 244.7 C90.9 244.4 88.0 245.7 86.0 245.3 C84.0 245.0 82.2 243.8 80.7 242.7 C79.1 241.6 77.9 239.8 76.7 238.7 C75.4 237.6 74.4 236.1 73.3 236.0 C72.2 235.9 71.2 237.2 70.0 238.0 C68.8 238.8 67.4 240.3 66.0 240.7 C64.6 241.0 62.8 240.6 61.3 240.0 C59.9 239.4 58.2 238.4 57.3 237.3 C56.4 236.2 56.0 234.9 56.0 233.3Z" fill="#6eaee0" stroke="#a6dcea" stroke-width="1.6"/>
<g fill="#6eaee0">
</g>
<g clip-path="url(#bc0)">
<g fill="#5890d6">
<circle cx="68.7" cy="231.3" r="6.9"/>
<circle cx="62.7" cy="236.7" r="4.4"/>
<circle cx="82.7" cy="238.0" r="8.6"/>
<circle cx="78.7" cy="231.3" r="4.9"/>
<circle cx="94.0" cy="240.0" r="6.2"/>
<circle cx="99.3" cy="243.3" r="8.6"/>
<circle cx="107.3" cy="246.0" r="7.4"/>
<circle cx="115.7" cy="249.8" r="7.3"/>
<circle cx="124.2" cy="250.5" r="7.9"/>
<circle cx="137.6" cy="248.4" r="8.4"/>
<circle cx="129.8" cy="258.3" r="7.9"/>
<circle cx="131.2" cy="264.7" r="7.3"/>
<circle cx="140.5" cy="266.8" r="5.8"/>
<circle cx="157.5" cy="264.0" r="6.6"/>
<circle cx="166.7" cy="266.1" r="4.7"/>
<circle cx="134.8" cy="243.4" r="4.7"/>
</g>
<g fill="#3c69c4">
<circle cx="68.7" cy="231.3" r="3.7"/>
<circle cx="62.7" cy="236.7" r="2.4"/>
<circle cx="82.7" cy="238.0" r="4.7"/>
<circle cx="78.7" cy="231.3" r="2.7"/>
<circle cx="94.0" cy="240.0" r="3.3"/>
<circle cx="99.3" cy="243.3" r="4.7"/>
<circle cx="107.3" cy="246.0" r="4.0"/>
<circle cx="115.7" cy="249.8" r="4.0"/>
<circle cx="124.2" cy="250.5" r="4.2"/>
<circle cx="137.6" cy="248.4" r="4.5"/>
<circle cx="129.8" cy="258.3" r="4.2"/>
<circle cx="131.2" cy="264.7" r="4.0"/>
<circle cx="140.5" cy="266.8" r="3.1"/>
<circle cx="157.5" cy="264.0" r="3.5"/>
<circle cx="166.7" cy="266.1" r="2.5"/>
<circle cx="134.8" cy="243.4" r="2.5"/>
<circle cx="68.7" cy="230.7" r="3.0"/>
<circle cx="63.3" cy="236.7" r="2.1"/>
<circle cx="82.7" cy="238.7" r="4.3"/>
<circle cx="97.3" cy="243.3" r="3.8"/>
<circle cx="104.0" cy="244.7" r="3.8"/>
<circle cx="115.7" cy="250.5" r="2.9"/>
<circle cx="124.2" cy="251.2" r="3.4"/>
<ellipse cx="139.0" cy="250.5" rx="2.7" ry="5.7" transform="rotate(0 139.0 250.5)"/>
<circle cx="136.2" cy="245.5" r="2.3"/>
<circle cx="129.1" cy="257.6" r="2.5"/>
<circle cx="130.5" cy="264.7" r="2.7"/>
<circle cx="140.5" cy="267.5" r="2.5"/>
<circle cx="156.7" cy="263.2" r="2.9"/>
<circle cx="134.8" cy="263.2" r="1.6"/>
</g>
</g>
<g fill="#2440a6">
<circle cx="68.7" cy="230.7" r="1.9"/>
<circle cx="63.3" cy="236.7" r="1.3"/>
<circle cx="82.7" cy="238.7" r="2.7"/>
<circle cx="97.3" cy="243.3" r="2.4"/>
<circle cx="104.0" cy="244.7" r="2.4"/>
<circle cx="115.7" cy="250.5" r="1.8"/>
<circle cx="124.2" cy="251.2" r="2.1"/>
<ellipse cx="139.0" cy="250.5" rx="1.7" ry="3.5" transform="rotate(0 139.0 250.5)"/>
<circle cx="136.2" cy="245.5" r="1.4"/>
<circle cx="129.1" cy="257.6" r="1.6"/>
<circle cx="130.5" cy="264.7" r="1.7"/>
<circle cx="140.5" cy="267.5" r="1.6"/>
<circle cx="156.7" cy="263.2" r="1.8"/>
<circle cx="134.8" cy="263.2" r="1.0"/>
</g>
<g fill="#6eaee0">
</g>
</g>
<g transform="translate(0.0 0)">
<path d="M37.5 291.7 C39.2 292.5 40.7 294.4 42.5 295.8 C44.3 297.2 46.2 298.9 48.3 300.0 C50.4 301.1 52.5 302.4 55.0 302.5 C57.5 302.6 60.7 301.5 63.3 300.8 C66.0 300.1 68.9 299.3 70.8 298.3 C72.8 297.4 73.5 296.1 75.0 295.0 C76.5 293.9 78.1 292.6 80.0 291.7 C81.9 290.7 84.7 289.8 86.7 289.2 C88.6 288.6 90.0 287.9 91.7 288.0 C93.3 288.1 95.0 289.1 96.7 289.7 C98.3 290.3 100.1 290.8 101.7 291.7 C103.2 292.6 104.8 293.6 105.8 295.0 C106.9 296.4 107.7 298.1 108.0 300.0 C108.3 301.9 108.1 304.6 107.5 306.7 C106.9 308.8 105.3 310.4 104.2 312.5 C103.1 314.6 102.1 317.1 100.8 319.2 C99.6 321.2 98.2 323.1 96.7 325.0 C95.1 326.9 93.6 328.9 91.7 330.8 C89.7 332.8 87.2 334.9 85.0 336.7 C82.8 338.5 80.8 340.1 78.3 341.7 C75.8 343.2 72.6 344.6 70.0 345.8 C67.4 347.1 64.4 348.3 62.5 349.2 C60.6 350.0 59.1 349.9 58.3 350.8 C57.6 351.8 59.9 354.3 58.0 355.0 C56.1 355.7 48.9 355.7 47.0 355.0 C45.1 354.3 47.4 352.4 46.7 350.8 C45.9 349.3 43.6 347.6 42.5 345.8 C41.4 344.0 40.6 342.1 40.3 340.0 C40.1 337.9 40.3 335.3 40.8 333.3 C41.3 331.4 42.4 330.0 43.3 328.3 C44.3 326.7 45.4 325.1 46.7 323.3 C47.9 321.5 49.4 319.3 50.8 317.5 C52.2 315.7 54.1 313.9 55.0 312.5 C55.9 311.1 56.3 310.2 56.3 309.2 C56.3 308.1 55.6 306.9 55.0 306.3 C54.4 305.8 53.3 305.6 52.5 305.8 C51.7 306.0 51.0 306.5 50.0 307.5 C49.0 308.5 47.9 310.4 46.7 311.7 C45.4 312.9 44.0 314.1 42.5 315.0 C41.0 315.9 39.2 316.6 37.5 317.0 C35.8 317.4 33.3 321.8 32.5 317.5 C31.7 313.2 31.7 295.3 32.5 291.0 C33.3 286.7 35.8 290.9 37.5 291.7Z" fill="#b3ada5"/>
<g filter="url(#rough)">
<path d="M34.7 289.3 C35.1 289.7 36.2 290.6 37.5 291.7 C38.8 292.8 40.7 294.4 42.5 295.8 C44.3 297.2 46.2 298.9 48.3 300.0 C50.4 301.1 52.5 302.4 55.0 302.5 C57.5 302.6 60.7 301.5 63.3 300.8 C66.0 300.1 68.9 299.3 70.8 298.3 C72.8 297.4 73.5 296.1 75.0 295.0 C76.5 293.9 78.1 292.6 80.0 291.7 C81.9 290.7 84.7 289.8 86.7 289.2 C88.6 288.6 90.0 287.9 91.7 288.0 C93.3 288.1 95.0 289.1 96.7 289.7 C98.3 290.3 100.1 290.8 101.7 291.7 C103.2 292.6 104.8 293.6 105.8 295.0 C106.9 296.4 107.7 298.1 108.0 300.0 C108.3 301.9 108.1 304.6 107.5 306.7 C106.9 308.8 105.3 310.4 104.2 312.5 C103.1 314.6 102.1 317.1 100.8 319.2 C99.6 321.2 98.2 323.1 96.7 325.0 C95.1 326.9 93.6 328.9 91.7 330.8 C89.7 332.8 87.2 334.9 85.0 336.7 C82.8 338.5 80.8 340.1 78.3 341.7 C75.8 343.2 72.6 344.6 70.0 345.8 C67.4 347.1 64.4 348.3 62.5 349.2 C60.6 350.0 59.3 350.3 58.3 350.8 C57.4 351.4 56.9 352.1 56.7 352.3" fill="none" stroke="#1f6b3b" stroke-width="1.5"/>
<path d="M47.7 352.3 C47.5 352.1 47.5 351.9 46.7 350.8 C45.8 349.8 43.6 347.6 42.5 345.8 C41.4 344.0 40.6 342.1 40.3 340.0 C40.1 337.9 40.3 335.3 40.8 333.3 C41.3 331.4 42.4 330.0 43.3 328.3 C44.3 326.7 45.4 325.1 46.7 323.3 C47.9 321.5 49.4 319.3 50.8 317.5 C52.2 315.7 54.1 313.9 55.0 312.5 C55.9 311.1 56.3 310.2 56.3 309.2 C56.3 308.1 55.6 306.9 55.0 306.3 C54.4 305.8 53.3 305.6 52.5 305.8 C51.7 306.0 51.0 306.5 50.0 307.5 C49.0 308.5 47.9 310.4 46.7 311.7 C45.4 312.9 44.0 314.1 42.5 315.0 C41.0 315.9 38.8 316.5 37.5 317.0 C36.2 317.5 35.1 317.7 34.7 317.8" fill="none" stroke="#1f6b3b" stroke-width="1.5"/>
<path d="M98.3 289.7 C99.1 290.1 101.6 291.0 103.0 292.0 C104.4 293.0 105.8 294.3 106.7 295.7 C107.6 297.1 108.2 298.5 108.3 300.3 C108.5 302.2 108.3 304.7 107.7 306.7 C107.1 308.6 105.2 311.1 104.7 312.0" fill="none" stroke="#1f6b3b" stroke-width="2.4"/>
<path d="M98.3 289.7 C99.1 290.1 101.6 291.0 103.0 292.0 C104.4 293.0 105.8 294.3 106.7 295.7 C107.6 297.1 108.2 298.5 108.3 300.3 C108.5 302.2 108.3 304.7 107.7 306.7 C107.1 308.6 105.2 311.1 104.7 312.0" fill="none" stroke="#1f6b3b" stroke-width="4.2" stroke-dasharray="1.1 1.0"/>
</g>
<path d="M178.0 193.6 C175.0 194.3 177.9 196.1 178.2 197.5 C178.5 198.9 180.0 200.8 180.0 202.0 C180.0 203.3 179.1 204.3 178.2 205.1 C177.3 205.9 175.7 206.0 174.6 206.9 C173.5 207.8 172.6 209.4 171.6 210.5 C170.6 211.6 169.5 212.3 168.6 213.5 C167.7 214.7 167.0 216.2 166.1 217.7 C165.2 219.2 163.7 221.1 163.1 222.5 C162.5 223.9 162.3 224.9 162.5 226.1 C162.7 227.3 164.3 228.6 164.3 229.8 C164.3 231.0 163.3 232.1 162.5 233.4 C161.7 234.7 160.4 236.2 159.5 237.6 C158.6 239.0 157.7 240.4 157.1 241.8 C156.5 243.2 155.9 244.7 155.9 246.0 C155.9 247.3 156.4 248.6 157.1 249.6 C157.8 250.6 159.3 252.0 160.1 252.0 C160.9 252.0 161.6 250.6 161.9 249.6 C162.2 248.6 161.5 247.5 161.9 246.0 C162.3 244.5 163.6 242.3 164.3 240.6 C165.0 238.9 165.7 237.2 166.1 235.8 C166.5 234.4 165.9 233.1 166.7 232.2 C167.6 231.3 169.3 230.8 171.0 230.4 C172.7 230.0 175.4 230.1 177.0 229.8 C178.6 229.5 179.9 229.3 180.6 228.6 C181.3 227.9 181.0 226.5 181.2 225.5 C181.4 224.5 181.1 223.6 181.8 222.5 C182.5 221.4 183.7 220.1 185.4 218.9 C187.1 217.7 190.3 216.2 192.0 215.3 C193.8 214.4 195.1 217.1 195.7 213.5 C196.3 209.9 198.6 196.9 195.7 193.6 C192.7 190.3 180.9 193.0 178.0 193.6Z" fill="#b3ada5" stroke="#1f6b3b" stroke-width="1.5" filter="url(#rough)"/>
<ellipse cx="186" cy="225" rx="2.2" ry="3.2" fill="#fff" stroke="#1f6b3b" stroke-width="1.2"/>
</g>
<g stroke="#2c2c2c" stroke-width="0.85" stroke-dasharray="1 1.55">
<line x1="55.0" y1="197.4" x2="55.0" y2="350.8"/>
<line x1="113.2" y1="197.4" x2="113.2" y2="350.8"/>
<line x1="171.5" y1="197.4" x2="171.5" y2="350.8"/>
<line x1="37.4" y1="247.6" x2="191.8" y2="247.6"/>
<line x1="37.4" y1="319.0" x2="191.8" y2="319.0"/>
</g>
</g>
<rect x="37.4" y="197.4" width="154.4" height="153.4" fill="none" stroke="#4a4a4a" stroke-width="1"/>
<line x1="55.0" y1="350.8" x2="55.0" y2="355.3" stroke="#4a4a4a" stroke-width="0.9"/>
<text x="56.4" y="367.5" font-size="12.3" fill="#333" textLength="33.0" lengthAdjust="spacingAndGlyphs" text-anchor="middle" >135° E</text>
<line x1="113.2" y1="350.8" x2="113.2" y2="355.3" stroke="#4a4a4a" stroke-width="0.9"/>
<text x="112.3" y="367.5" font-size="12.3" fill="#333" textLength="42.0" lengthAdjust="spacingAndGlyphs" text-anchor="middle" >135.5° E</text>
<line x1="171.5" y1="350.8" x2="171.5" y2="355.3" stroke="#4a4a4a" stroke-width="0.9"/>
<text x="172.9" y="367.5" font-size="12.3" fill="#333" textLength="32.9" lengthAdjust="spacingAndGlyphs" text-anchor="middle" >136° E</text>
<clipPath id="mb1"><rect x="208.3" y="197.4" width="154.3" height="153.4"/></clipPath>
<g clip-path="url(#mb1)">
<clipPath id="bc1">
<path d="M227.3 232.0 C227.2 230.6 227.7 229.1 228.7 228.0 C229.7 226.9 231.7 225.7 233.3 225.3 C235.0 225.0 237.2 225.4 238.7 226.0 C240.1 226.6 241.0 227.8 242.0 228.7 C243.0 229.6 243.9 231.6 244.7 231.3 C245.4 231.1 245.4 228.0 246.7 227.3 C247.9 226.7 250.3 226.9 252.0 227.3 C253.7 227.8 255.3 228.9 256.7 230.0 C258.0 231.1 258.6 233.2 260.0 234.0 C261.4 234.8 263.1 234.4 265.3 234.7 C267.6 234.9 270.9 234.8 273.3 235.3 C275.8 235.9 277.8 237.4 280.0 238.0 C282.2 238.6 284.2 238.7 286.7 238.7 C289.1 238.7 293.6 238.0 294.7 238.0 C295.8 238.0 292.2 238.0 293.2 238.4 C294.1 238.8 298.3 240.2 300.5 240.6 C302.7 241.0 304.6 241.2 306.3 240.6 C308.0 240.0 309.3 237.6 310.7 237.2 C312.2 236.9 313.8 237.5 315.1 238.4 C316.5 239.3 317.9 241.5 318.8 242.8 C319.6 244.1 320.1 245.2 320.2 246.5 C320.4 247.7 320.1 249.0 319.5 250.1 C318.9 251.2 317.3 251.9 316.6 253.0 C315.8 254.1 315.8 255.6 315.1 256.7 C314.4 257.8 313.7 258.8 312.2 259.6 C310.7 260.5 308.3 261.2 306.3 261.8 C304.4 262.4 302.3 263.0 300.5 263.3 C298.7 263.5 296.8 263.8 295.4 263.3 C293.9 262.8 293.0 261.2 291.7 260.4 C290.4 259.5 288.8 258.8 287.3 258.2 C285.9 257.6 281.7 255.9 282.9 256.7 C284.2 257.4 293.6 262.1 294.7 262.7 C295.7 263.2 291.3 260.8 289.3 260.0 C287.3 259.2 284.4 259.1 282.7 258.0 C280.9 256.9 279.8 254.6 278.7 253.3 C277.6 252.1 277.1 251.4 276.0 250.7 C274.9 249.9 273.6 249.4 272.0 248.7 C270.4 247.9 268.2 247.0 266.7 246.0 C265.1 245.0 264.0 242.9 262.7 242.7 C261.3 242.4 260.2 244.7 258.7 244.7 C257.1 244.7 255.1 243.7 253.3 242.7 C251.6 241.7 249.4 240.0 248.0 238.7 C246.6 237.3 245.8 235.1 244.7 234.7 C243.6 234.2 242.6 235.1 241.3 236.0 C240.1 236.9 238.7 239.1 237.3 240.0 C236.0 240.9 234.7 241.9 233.3 241.3 C232.0 240.8 230.3 238.2 229.3 236.7 C228.3 235.1 227.4 233.4 227.3 232.0Z"/>
<path d="M325.4 263.3 C325.7 262.3 326.8 260.8 328.3 260.4 C329.7 259.9 332.2 260.2 334.1 260.4 C336.1 260.5 338.2 260.5 340.0 261.1 C341.8 261.7 343.8 263.0 345.1 264.0 C346.4 265.0 347.9 265.7 348.0 266.9 C348.2 268.2 346.9 270.2 345.8 271.3 C344.7 272.4 343.0 273.3 341.4 273.5 C339.9 273.8 337.5 273.5 336.3 272.8 C335.1 272.1 335.2 269.9 334.1 269.1 C333.0 268.4 331.1 268.9 329.7 268.4 C328.4 267.9 326.8 267.1 326.1 266.2 C325.4 265.4 325.0 264.3 325.4 263.3Z"/>
<circle cx="263.7" cy="211.7" r="1.5"/>
<circle cx="274.0" cy="228.7" r="2.4"/>
<circle cx="300.5" cy="228.9" r="1.8"/>
<circle cx="284.4" cy="227.4" r="2.2"/>
<circle cx="238.7" cy="231.3" r="3.7"/>
<circle cx="234.7" cy="233.3" r="2.4"/>
<circle cx="253.3" cy="238.7" r="4.0"/>
<circle cx="277.3" cy="246.0" r="4.0"/>
<circle cx="285.3" cy="250.0" r="3.7"/>
<circle cx="294.7" cy="251.3" r="3.7"/>
<circle cx="285.9" cy="249.4" r="4.4"/>
<circle cx="295.4" cy="250.8" r="4.1"/>
<circle cx="309.3" cy="249.4" r="4.4"/>
<circle cx="329.0" cy="264.7" r="2.6"/>
<circle cx="301.9" cy="253.8" r="3.2"/>
</clipPath>
<g filter="url(#bl)">
<g fill="#a6dcea">
<circle cx="263.7" cy="211.7" r="3.2"/>
<circle cx="272.3" cy="206.0" r="1.6"/>
<circle cx="254.7" cy="221.1" r="2.7"/>
<ellipse cx="264.7" cy="227.3" rx="5.1" ry="3.3" transform="rotate(0 264.7 227.3)"/>
<ellipse cx="272.3" cy="218.7" rx="1.1" ry="1.9" transform="rotate(0 272.3 218.7)"/>
<ellipse cx="282.7" cy="226.7" rx="6.7" ry="3.7" transform="rotate(-20 282.7 226.7)"/>
<ellipse cx="288.0" cy="216.7" rx="2.4" ry="3.7" transform="rotate(0 288.0 216.7)"/>
<ellipse cx="296.3" cy="215.3" rx="2.0" ry="1.1" transform="rotate(0 296.3 215.3)"/>
<circle cx="298.0" cy="228.7" r="2.7"/>
<ellipse cx="242.0" cy="249.6" rx="5.3" ry="2.9" transform="rotate(0 242.0 249.6)"/>
<ellipse cx="248.7" cy="250.0" rx="5.3" ry="1.3" transform="rotate(0 248.7 250.0)"/>
<ellipse cx="321.7" cy="258.5" rx="2.9" ry="1.8" transform="rotate(0 321.7 258.5)"/>
<ellipse cx="323.5" cy="249.8" rx="1.2" ry="2.2" transform="rotate(0 323.5 249.8)"/>
<ellipse cx="348.0" cy="253.0" rx="4.1" ry="2.6" transform="rotate(-15 348.0 253.0)"/>
<circle cx="343.9" cy="239.9" r="1.5"/>
<circle cx="346.6" cy="291.4" r="2.6"/>
<circle cx="300.5" cy="228.2" r="3.7"/>
<ellipse cx="309.3" cy="224.5" rx="2.2" ry="3.7" transform="rotate(30 309.3 224.5)"/>
<circle cx="288.0" cy="218.7" r="1.8"/>
<circle cx="284.4" cy="227.4" r="4.4"/>
</g>
<path d="M227.3 232.0 C227.2 230.6 227.7 229.1 228.7 228.0 C229.7 226.9 231.7 225.7 233.3 225.3 C235.0 225.0 237.2 225.4 238.7 226.0 C240.1 226.6 241.0 227.8 242.0 228.7 C243.0 229.6 243.9 231.6 244.7 231.3 C245.4 231.1 245.4 228.0 246.7 227.3 C247.9 226.7 250.3 226.9 252.0 227.3 C253.7 227.8 255.3 228.9 256.7 230.0 C258.0 231.1 258.6 233.2 260.0 234.0 C261.4 234.8 263.1 234.4 265.3 234.7 C267.6 234.9 270.9 234.8 273.3 235.3 C275.8 235.9 277.8 237.4 280.0 238.0 C282.2 238.6 284.2 238.7 286.7 238.7 C289.1 238.7 293.6 238.0 294.7 238.0 C295.8 238.0 292.2 238.0 293.2 238.4 C294.1 238.8 298.3 240.2 300.5 240.6 C302.7 241.0 304.6 241.2 306.3 240.6 C308.0 240.0 309.3 237.6 310.7 237.2 C312.2 236.9 313.8 237.5 315.1 238.4 C316.5 239.3 317.9 241.5 318.8 242.8 C319.6 244.1 320.1 245.2 320.2 246.5 C320.4 247.7 320.1 249.0 319.5 250.1 C318.9 251.2 317.3 251.9 316.6 253.0 C315.8 254.1 315.8 255.6 315.1 256.7 C314.4 257.8 313.7 258.8 312.2 259.6 C310.7 260.5 308.3 261.2 306.3 261.8 C304.4 262.4 302.3 263.0 300.5 263.3 C298.7 263.5 296.8 263.8 295.4 263.3 C293.9 262.8 293.0 261.2 291.7 260.4 C290.4 259.5 288.8 258.8 287.3 258.2 C285.9 257.6 281.7 255.9 282.9 256.7 C284.2 257.4 293.6 262.1 294.7 262.7 C295.7 263.2 291.3 260.8 289.3 260.0 C287.3 259.2 284.4 259.1 282.7 258.0 C280.9 256.9 279.8 254.6 278.7 253.3 C277.6 252.1 277.1 251.4 276.0 250.7 C274.9 249.9 273.6 249.4 272.0 248.7 C270.4 247.9 268.2 247.0 266.7 246.0 C265.1 245.0 264.0 242.9 262.7 242.7 C261.3 242.4 260.2 244.7 258.7 244.7 C257.1 244.7 255.1 243.7 253.3 242.7 C251.6 241.7 249.4 240.0 248.0 238.7 C246.6 237.3 245.8 235.1 244.7 234.7 C243.6 234.2 242.6 235.1 241.3 236.0 C240.1 236.9 238.7 239.1 237.3 240.0 C236.0 240.9 234.7 241.9 233.3 241.3 C232.0 240.8 230.3 238.2 229.3 236.7 C228.3 235.1 227.4 233.4 227.3 232.0Z" fill="#6eaee0" stroke="#a6dcea" stroke-width="1.6"/>
<path d="M325.4 263.3 C325.7 262.3 326.8 260.8 328.3 260.4 C329.7 259.9 332.2 260.2 334.1 260.4 C336.1 260.5 338.2 260.5 340.0 261.1 C341.8 261.7 343.8 263.0 345.1 264.0 C346.4 265.0 347.9 265.7 348.0 266.9 C348.2 268.2 346.9 270.2 345.8 271.3 C344.7 272.4 343.0 273.3 341.4 273.5 C339.9 273.8 337.5 273.5 336.3 272.8 C335.1 272.1 335.2 269.9 334.1 269.1 C333.0 268.4 331.1 268.9 329.7 268.4 C328.4 267.9 326.8 267.1 326.1 266.2 C325.4 265.4 325.0 264.3 325.4 263.3Z" fill="#6eaee0" stroke="#a6dcea" stroke-width="1.6"/>
<g fill="#6eaee0">
<circle cx="263.7" cy="211.7" r="1.5"/>
<circle cx="274.0" cy="228.7" r="2.4"/>
<ellipse cx="282.7" cy="226.7" rx="3.7" ry="2.0" transform="rotate(-20 282.7 226.7)"/>
<circle cx="300.5" cy="228.9" r="1.8"/>
<circle cx="284.4" cy="227.4" r="2.2"/>
</g>
<g clip-path="url(#bc1)">
<g fill="#5890d6">
<circle cx="238.7" cy="231.3" r="6.9"/>
<circle cx="234.7" cy="233.3" r="4.4"/>
<circle cx="253.3" cy="238.7" r="7.4"/>
<ellipse cx="268.0" cy="243.3" rx="9.4" ry="5.4" transform="rotate(15 268.0 243.3)"/>
<circle cx="277.3" cy="246.0" r="7.4"/>
<circle cx="285.3" cy="250.0" r="6.9"/>
<circle cx="294.7" cy="251.3" r="6.9"/>
<circle cx="285.9" cy="249.4" r="8.1"/>
<circle cx="295.4" cy="250.8" r="7.6"/>
<circle cx="309.3" cy="249.4" r="8.1"/>
<circle cx="329.0" cy="264.7" r="4.9"/>
<circle cx="301.9" cy="253.8" r="6.0"/>
</g>
<g fill="#3c69c4">
<circle cx="238.7" cy="231.3" r="3.7"/>
<circle cx="234.7" cy="233.3" r="2.4"/>
<circle cx="253.3" cy="238.7" r="4.0"/>
<ellipse cx="268.0" cy="243.3" rx="5.1" ry="2.9" transform="rotate(15 268.0 243.3)"/>
<circle cx="277.3" cy="246.0" r="4.0"/>
<circle cx="285.3" cy="250.0" r="3.7"/>
<circle cx="294.7" cy="251.3" r="3.7"/>
<circle cx="285.9" cy="249.4" r="4.4"/>
<circle cx="295.4" cy="250.8" r="4.1"/>
<circle cx="309.3" cy="249.4" r="4.4"/>
<circle cx="329.0" cy="264.7" r="2.6"/>
<circle cx="301.9" cy="253.8" r="3.2"/>
<circle cx="239.3" cy="232.0" r="3.0"/>
<circle cx="253.3" cy="239.3" r="3.4"/>
<ellipse cx="268.0" cy="244.0" rx="5.3" ry="2.6" transform="rotate(15 268.0 244.0)"/>
<circle cx="276.0" cy="245.3" r="3.0"/>
<circle cx="281.3" cy="248.0" r="3.0"/>
<circle cx="287.3" cy="251.3" r="2.1"/>
<circle cx="294.7" cy="252.0" r="3.0"/>
<circle cx="282.9" cy="247.2" r="2.3"/>
<circle cx="287.3" cy="250.8" r="3.3"/>
<circle cx="295.4" cy="251.6" r="3.3"/>
<circle cx="310.0" cy="250.1" r="3.7"/>
<circle cx="328.3" cy="264.7" r="2.8"/>
</g>
</g>
<g fill="#2440a6">
<circle cx="239.3" cy="232.0" r="1.9"/>
<circle cx="253.3" cy="239.3" r="2.1"/>
<ellipse cx="268.0" cy="244.0" rx="3.3" ry="1.6" transform="rotate(15 268.0 244.0)"/>
<circle cx="276.0" cy="245.3" r="1.9"/>
<circle cx="281.3" cy="248.0" r="1.9"/>
<circle cx="287.3" cy="251.3" r="1.3"/>
<circle cx="294.7" cy="252.0" r="1.9"/>
<circle cx="282.9" cy="247.2" r="1.5"/>
<circle cx="287.3" cy="250.8" r="2.0"/>
<circle cx="295.4" cy="251.6" r="2.0"/>
<circle cx="310.0" cy="250.1" r="2.3"/>
<circle cx="328.3" cy="264.7" r="1.8"/>
</g>
<g fill="#6eaee0">
<circle cx="301.9" cy="253.8" r="2.3"/>
</g>
</g>
<g transform="translate(170.9 0)">
<path d="M37.5 291.7 C39.2 292.5 40.7 294.4 42.5 295.8 C44.3 297.2 46.2 298.9 48.3 300.0 C50.4 301.1 52.5 302.4 55.0 302.5 C57.5 302.6 60.7 301.5 63.3 300.8 C66.0 300.1 68.9 299.3 70.8 298.3 C72.8 297.4 73.5 296.1 75.0 295.0 C76.5 293.9 78.1 292.6 80.0 291.7 C81.9 290.7 84.7 289.8 86.7 289.2 C88.6 288.6 90.0 287.9 91.7 288.0 C93.3 288.1 95.0 289.1 96.7 289.7 C98.3 290.3 100.1 290.8 101.7 291.7 C103.2 292.6 104.8 293.6 105.8 295.0 C106.9 296.4 107.7 298.1 108.0 300.0 C108.3 301.9 108.1 304.6 107.5 306.7 C106.9 308.8 105.3 310.4 104.2 312.5 C103.1 314.6 102.1 317.1 100.8 319.2 C99.6 321.2 98.2 323.1 96.7 325.0 C95.1 326.9 93.6 328.9 91.7 330.8 C89.7 332.8 87.2 334.9 85.0 336.7 C82.8 338.5 80.8 340.1 78.3 341.7 C75.8 343.2 72.6 344.6 70.0 345.8 C67.4 347.1 64.4 348.3 62.5 349.2 C60.6 350.0 59.1 349.9 58.3 350.8 C57.6 351.8 59.9 354.3 58.0 355.0 C56.1 355.7 48.9 355.7 47.0 355.0 C45.1 354.3 47.4 352.4 46.7 350.8 C45.9 349.3 43.6 347.6 42.5 345.8 C41.4 344.0 40.6 342.1 40.3 340.0 C40.1 337.9 40.3 335.3 40.8 333.3 C41.3 331.4 42.4 330.0 43.3 328.3 C44.3 326.7 45.4 325.1 46.7 323.3 C47.9 321.5 49.4 319.3 50.8 317.5 C52.2 315.7 54.1 313.9 55.0 312.5 C55.9 311.1 56.3 310.2 56.3 309.2 C56.3 308.1 55.6 306.9 55.0 306.3 C54.4 305.8 53.3 305.6 52.5 305.8 C51.7 306.0 51.0 306.5 50.0 307.5 C49.0 308.5 47.9 310.4 46.7 311.7 C45.4 312.9 44.0 314.1 42.5 315.0 C41.0 315.9 39.2 316.6 37.5 317.0 C35.8 317.4 33.3 321.8 32.5 317.5 C31.7 313.2 31.7 295.3 32.5 291.0 C33.3 286.7 35.8 290.9 37.5 291.7Z" fill="#b3ada5"/>
<g filter="url(#rough)">
<path d="M34.7 289.3 C35.1 289.7 36.2 290.6 37.5 291.7 C38.8 292.8 40.7 294.4 42.5 295.8 C44.3 297.2 46.2 298.9 48.3 300.0 C50.4 301.1 52.5 302.4 55.0 302.5 C57.5 302.6 60.7 301.5 63.3 300.8 C66.0 300.1 68.9 299.3 70.8 298.3 C72.8 297.4 73.5 296.1 75.0 295.0 C76.5 293.9 78.1 292.6 80.0 291.7 C81.9 290.7 84.7 289.8 86.7 289.2 C88.6 288.6 90.0 287.9 91.7 288.0 C93.3 288.1 95.0 289.1 96.7 289.7 C98.3 290.3 100.1 290.8 101.7 291.7 C103.2 292.6 104.8 293.6 105.8 295.0 C106.9 296.4 107.7 298.1 108.0 300.0 C108.3 301.9 108.1 304.6 107.5 306.7 C106.9 308.8 105.3 310.4 104.2 312.5 C103.1 314.6 102.1 317.1 100.8 319.2 C99.6 321.2 98.2 323.1 96.7 325.0 C95.1 326.9 93.6 328.9 91.7 330.8 C89.7 332.8 87.2 334.9 85.0 336.7 C82.8 338.5 80.8 340.1 78.3 341.7 C75.8 343.2 72.6 344.6 70.0 345.8 C67.4 347.1 64.4 348.3 62.5 349.2 C60.6 350.0 59.3 350.3 58.3 350.8 C57.4 351.4 56.9 352.1 56.7 352.3" fill="none" stroke="#1f6b3b" stroke-width="1.5"/>
<path d="M47.7 352.3 C47.5 352.1 47.5 351.9 46.7 350.8 C45.8 349.8 43.6 347.6 42.5 345.8 C41.4 344.0 40.6 342.1 40.3 340.0 C40.1 337.9 40.3 335.3 40.8 333.3 C41.3 331.4 42.4 330.0 43.3 328.3 C44.3 326.7 45.4 325.1 46.7 323.3 C47.9 321.5 49.4 319.3 50.8 317.5 C52.2 315.7 54.1 313.9 55.0 312.5 C55.9 311.1 56.3 310.2 56.3 309.2 C56.3 308.1 55.6 306.9 55.0 306.3 C54.4 305.8 53.3 305.6 52.5 305.8 C51.7 306.0 51.0 306.5 50.0 307.5 C49.0 308.5 47.9 310.4 46.7 311.7 C45.4 312.9 44.0 314.1 42.5 315.0 C41.0 315.9 38.8 316.5 37.5 317.0 C36.2 317.5 35.1 317.7 34.7 317.8" fill="none" stroke="#1f6b3b" stroke-width="1.5"/>
<path d="M98.3 289.7 C99.1 290.1 101.6 291.0 103.0 292.0 C104.4 293.0 105.8 294.3 106.7 295.7 C107.6 297.1 108.2 298.5 108.3 300.3 C108.5 302.2 108.3 304.7 107.7 306.7 C107.1 308.6 105.2 311.1 104.7 312.0" fill="none" stroke="#1f6b3b" stroke-width="2.4"/>
<path d="M98.3 289.7 C99.1 290.1 101.6 291.0 103.0 292.0 C104.4 293.0 105.8 294.3 106.7 295.7 C107.6 297.1 108.2 298.5 108.3 300.3 C108.5 302.2 108.3 304.7 107.7 306.7 C107.1 308.6 105.2 311.1 104.7 312.0" fill="none" stroke="#1f6b3b" stroke-width="4.2" stroke-dasharray="1.1 1.0"/>
</g>
<path d="M178.0 193.6 C175.0 194.3 177.9 196.1 178.2 197.5 C178.5 198.9 180.0 200.8 180.0 202.0 C180.0 203.3 179.1 204.3 178.2 205.1 C177.3 205.9 175.7 206.0 174.6 206.9 C173.5 207.8 172.6 209.4 171.6 210.5 C170.6 211.6 169.5 212.3 168.6 213.5 C167.7 214.7 167.0 216.2 166.1 217.7 C165.2 219.2 163.7 221.1 163.1 222.5 C162.5 223.9 162.3 224.9 162.5 226.1 C162.7 227.3 164.3 228.6 164.3 229.8 C164.3 231.0 163.3 232.1 162.5 233.4 C161.7 234.7 160.4 236.2 159.5 237.6 C158.6 239.0 157.7 240.4 157.1 241.8 C156.5 243.2 155.9 244.7 155.9 246.0 C155.9 247.3 156.4 248.6 157.1 249.6 C157.8 250.6 159.3 252.0 160.1 252.0 C160.9 252.0 161.6 250.6 161.9 249.6 C162.2 248.6 161.5 247.5 161.9 246.0 C162.3 244.5 163.6 242.3 164.3 240.6 C165.0 238.9 165.7 237.2 166.1 235.8 C166.5 234.4 165.9 233.1 166.7 232.2 C167.6 231.3 169.3 230.8 171.0 230.4 C172.7 230.0 175.4 230.1 177.0 229.8 C178.6 229.5 179.9 229.3 180.6 228.6 C181.3 227.9 181.0 226.5 181.2 225.5 C181.4 224.5 181.1 223.6 181.8 222.5 C182.5 221.4 183.7 220.1 185.4 218.9 C187.1 217.7 190.3 216.2 192.0 215.3 C193.8 214.4 195.1 217.1 195.7 213.5 C196.3 209.9 198.6 196.9 195.7 193.6 C192.7 190.3 180.9 193.0 178.0 193.6Z" fill="#b3ada5" stroke="#1f6b3b" stroke-width="1.5" filter="url(#rough)"/>
<ellipse cx="186" cy="225" rx="2.2" ry="3.2" fill="#fff" stroke="#1f6b3b" stroke-width="1.2"/>
</g>
<g stroke="#2c2c2c" stroke-width="0.85" stroke-dasharray="1 1.55">
<line x1="225.9" y1="197.4" x2="225.9" y2="350.8"/>
<line x1="284.1" y1="197.4" x2="284.1" y2="350.8"/>
<line x1="342.4" y1="197.4" x2="342.4" y2="350.8"/>
<line x1="208.3" y1="247.6" x2="362.6" y2="247.6"/>
<line x1="208.3" y1="319.0" x2="362.6" y2="319.0"/>
</g>
</g>
<rect x="208.3" y="197.4" width="154.3" height="153.4" fill="none" stroke="#4a4a4a" stroke-width="1"/>
<line x1="225.9" y1="350.8" x2="225.9" y2="355.3" stroke="#4a4a4a" stroke-width="0.9"/>
<text x="227.3" y="367.5" font-size="12.3" fill="#333" textLength="33.0" lengthAdjust="spacingAndGlyphs" text-anchor="middle" >135° E</text>
<line x1="284.1" y1="350.8" x2="284.1" y2="355.3" stroke="#4a4a4a" stroke-width="0.9"/>
<text x="283.2" y="367.5" font-size="12.3" fill="#333" textLength="42.0" lengthAdjust="spacingAndGlyphs" text-anchor="middle" >135.5° E</text>
<line x1="342.4" y1="350.8" x2="342.4" y2="355.3" stroke="#4a4a4a" stroke-width="0.9"/>
<text x="343.8" y="367.5" font-size="12.3" fill="#333" textLength="32.9" lengthAdjust="spacingAndGlyphs" text-anchor="middle" >136° E</text>
<clipPath id="mb2"><rect x="385.7" y="197.4" width="155.7" height="153.4"/></clipPath>
<g clip-path="url(#mb2)">
<clipPath id="bc2">
<path d="M403.3 232.3 C403.4 230.9 404.2 229.0 405.3 227.7 C406.4 226.3 408.1 224.7 410.0 224.3 C411.9 224.0 415.0 224.9 416.7 225.7 C418.3 226.4 419.1 229.2 420.0 229.0 C420.9 228.8 421.0 225.0 422.0 224.3 C423.0 223.7 424.4 224.4 426.0 225.0 C427.6 225.6 429.6 226.7 431.3 227.7 C433.1 228.7 434.7 230.1 436.7 231.0 C438.7 231.9 441.1 232.4 443.3 233.0 C445.6 233.6 447.8 233.8 450.0 234.3 C452.2 234.9 454.7 236.2 456.7 236.3 C458.7 236.4 461.1 235.0 462.0 235.0 C462.9 235.0 460.8 236.1 461.9 236.1 C463.0 236.2 466.5 235.1 468.8 235.3 C471.1 235.4 473.4 236.6 475.7 237.0 C477.9 237.4 480.2 237.9 482.5 237.9 C484.8 237.9 487.3 236.7 489.4 237.0 C491.6 237.3 493.9 238.4 495.4 239.6 C497.0 240.7 498.0 242.3 498.9 243.9 C499.8 245.5 500.8 247.8 500.6 249.1 C500.5 250.3 499.2 250.9 498.0 251.6 C496.9 252.4 494.7 252.5 493.7 253.4 C492.7 254.2 491.7 255.7 492.0 256.8 C492.3 257.9 494.0 259.2 495.4 260.2 C496.9 261.2 499.2 262.2 500.6 262.8 C502.0 263.4 503.0 264.3 504.1 263.7 C505.1 263.1 505.1 260.2 506.6 259.4 C508.2 258.5 511.2 258.2 513.5 258.5 C515.8 258.8 518.5 260.1 520.4 261.1 C522.3 262.1 523.8 263.3 524.7 264.5 C525.6 265.8 526.1 267.6 525.6 268.8 C525.0 270.1 522.7 271.1 521.3 272.3 C519.8 273.4 518.4 275.4 517.0 275.7 C515.5 276.0 514.1 274.9 512.7 274.0 C511.2 273.1 509.8 271.6 508.4 270.6 C506.9 269.6 505.2 268.3 504.1 268.0 C502.9 267.7 502.8 268.4 501.5 268.8 C500.2 269.3 498.3 270.1 496.3 270.6 C494.3 271.0 491.7 271.6 489.4 271.4 C487.1 271.3 484.5 270.6 482.5 269.7 C480.5 268.8 479.1 267.6 477.4 266.3 C475.7 265.0 473.9 263.4 472.2 262.0 C470.5 260.5 469.1 258.8 467.0 257.7 C465.0 256.5 460.6 254.9 460.2 255.1 C459.8 255.3 464.8 258.8 464.7 259.0 C464.5 259.2 460.9 257.3 459.3 256.3 C457.8 255.3 456.4 254.2 455.3 253.0 C454.2 251.8 454.2 249.9 452.7 249.0 C451.1 248.1 448.2 248.0 446.0 247.7 C443.8 247.3 441.6 247.3 439.3 247.0 C437.1 246.7 434.7 246.4 432.7 245.7 C430.7 244.9 428.9 243.4 427.3 242.3 C425.8 241.2 424.6 240.0 423.3 239.0 C422.1 238.0 421.3 236.2 420.0 236.3 C418.7 236.4 416.7 238.8 415.3 239.7 C414.0 240.6 413.0 241.9 412.0 241.7 C411.0 241.4 410.6 239.2 409.3 238.3 C408.1 237.4 405.7 237.3 404.7 236.3 C403.7 235.3 403.2 233.8 403.3 232.3Z"/>
<circle cx="530.7" cy="289.5" r="4.1"/>
<circle cx="416.7" cy="231.7" r="3.7"/>
<circle cx="411.3" cy="236.3" r="2.0"/>
<circle cx="430.7" cy="238.3" r="5.1"/>
<circle cx="456.7" cy="247.7" r="4.0"/>
<circle cx="464.0" cy="250.3" r="3.7"/>
<circle cx="457.6" cy="248.2" r="3.8"/>
<circle cx="471.4" cy="251.6" r="4.3"/>
<circle cx="485.1" cy="246.5" r="4.8"/>
<circle cx="487.7" cy="252.5" r="3.8"/>
<circle cx="477.4" cy="257.7" r="4.3"/>
<circle cx="481.7" cy="264.5" r="4.8"/>
<circle cx="506.6" cy="263.7" r="3.8"/>
<circle cx="515.2" cy="268.8" r="4.8"/>
</clipPath>
<g filter="url(#bl)">
<g fill="#a6dcea">
<ellipse cx="444.3" cy="228.3" rx="1.3" ry="2.0" transform="rotate(0 444.3 228.3)"/>
<circle cx="407.3" cy="231.7" r="4.7"/>
<ellipse cx="492.0" cy="207.7" rx="2.4" ry="1.7" transform="rotate(0 492.0 207.7)"/>
<ellipse cx="473.6" cy="213.8" rx="1.7" ry="1.2" transform="rotate(0 473.6 213.8)"/>
<ellipse cx="493.2" cy="226.7" rx="3.1" ry="1.4" transform="rotate(25 493.2 226.7)"/>
<circle cx="483.4" cy="228.4" r="1.2"/>
<circle cx="474.8" cy="231.8" r="1.0"/>
<ellipse cx="526.4" cy="252.5" rx="4.3" ry="3.1" transform="rotate(-30 526.4 252.5)"/>
<circle cx="526.9" cy="272.3" r="1.4"/>
<circle cx="501.5" cy="251.6" r="1.4"/>
<ellipse cx="494.6" cy="268.0" rx="8.6" ry="3.1" transform="rotate(10 494.6 268.0)"/>
<path d="M392.0 256.3 C392.3 255.6 394.1 254.8 395.3 254.3 C396.6 253.9 398.0 254.1 399.3 253.7 C400.7 253.2 401.8 252.2 403.3 251.7 C404.9 251.1 406.9 250.8 408.7 250.3 C410.4 249.9 412.0 249.4 414.0 249.0 C416.0 248.6 418.9 247.7 420.7 247.7 C422.4 247.7 424.1 248.3 424.7 249.0 C425.2 249.7 424.8 250.9 424.0 251.7 C423.2 252.4 421.7 253.0 420.0 253.7 C418.3 254.3 415.9 255.2 414.0 255.7 C412.1 256.1 410.4 255.9 408.7 256.3 C406.9 256.8 405.1 257.9 403.3 258.3 C401.6 258.8 399.7 258.9 398.0 259.0 C396.3 259.1 394.3 259.2 393.3 258.7 C392.3 258.3 391.7 257.1 392.0 256.3Z"/>
</g>
<path d="M403.3 232.3 C403.4 230.9 404.2 229.0 405.3 227.7 C406.4 226.3 408.1 224.7 410.0 224.3 C411.9 224.0 415.0 224.9 416.7 225.7 C418.3 226.4 419.1 229.2 420.0 229.0 C420.9 228.8 421.0 225.0 422.0 224.3 C423.0 223.7 424.4 224.4 426.0 225.0 C427.6 225.6 429.6 226.7 431.3 227.7 C433.1 228.7 434.7 230.1 436.7 231.0 C438.7 231.9 441.1 232.4 443.3 233.0 C445.6 233.6 447.8 233.8 450.0 234.3 C452.2 234.9 454.7 236.2 456.7 236.3 C458.7 236.4 461.1 235.0 462.0 235.0 C462.9 235.0 460.8 236.1 461.9 236.1 C463.0 236.2 466.5 235.1 468.8 235.3 C471.1 235.4 473.4 236.6 475.7 237.0 C477.9 237.4 480.2 237.9 482.5 237.9 C484.8 237.9 487.3 236.7 489.4 237.0 C491.6 237.3 493.9 238.4 495.4 239.6 C497.0 240.7 498.0 242.3 498.9 243.9 C499.8 245.5 500.8 247.8 500.6 249.1 C500.5 250.3 499.2 250.9 498.0 251.6 C496.9 252.4 494.7 252.5 493.7 253.4 C492.7 254.2 491.7 255.7 492.0 256.8 C492.3 257.9 494.0 259.2 495.4 260.2 C496.9 261.2 499.2 262.2 500.6 262.8 C502.0 263.4 503.0 264.3 504.1 263.7 C505.1 263.1 505.1 260.2 506.6 259.4 C508.2 258.5 511.2 258.2 513.5 258.5 C515.8 258.8 518.5 260.1 520.4 261.1 C522.3 262.1 523.8 263.3 524.7 264.5 C525.6 265.8 526.1 267.6 525.6 268.8 C525.0 270.1 522.7 271.1 521.3 272.3 C519.8 273.4 518.4 275.4 517.0 275.7 C515.5 276.0 514.1 274.9 512.7 274.0 C511.2 273.1 509.8 271.6 508.4 270.6 C506.9 269.6 505.2 268.3 504.1 268.0 C502.9 267.7 502.8 268.4 501.5 268.8 C500.2 269.3 498.3 270.1 496.3 270.6 C494.3 271.0 491.7 271.6 489.4 271.4 C487.1 271.3 484.5 270.6 482.5 269.7 C480.5 268.8 479.1 267.6 477.4 266.3 C475.7 265.0 473.9 263.4 472.2 262.0 C470.5 260.5 469.1 258.8 467.0 257.7 C465.0 256.5 460.6 254.9 460.2 255.1 C459.8 255.3 464.8 258.8 464.7 259.0 C464.5 259.2 460.9 257.3 459.3 256.3 C457.8 255.3 456.4 254.2 455.3 253.0 C454.2 251.8 454.2 249.9 452.7 249.0 C451.1 248.1 448.2 248.0 446.0 247.7 C443.8 247.3 441.6 247.3 439.3 247.0 C437.1 246.7 434.7 246.4 432.7 245.7 C430.7 244.9 428.9 243.4 427.3 242.3 C425.8 241.2 424.6 240.0 423.3 239.0 C422.1 238.0 421.3 236.2 420.0 236.3 C418.7 236.4 416.7 238.8 415.3 239.7 C414.0 240.6 413.0 241.9 412.0 241.7 C411.0 241.4 410.6 239.2 409.3 238.3 C408.1 237.4 405.7 237.3 404.7 236.3 C403.7 235.3 403.2 233.8 403.3 232.3Z" fill="#6eaee0" stroke="#a6dcea" stroke-width="1.6"/>
<g fill="#6eaee0">
<ellipse cx="412.0" cy="253.7" rx="2.4" ry="1.3" transform="rotate(0 412.0 253.7)"/>
<ellipse cx="535.9" cy="283.5" rx="3.4" ry="4.5" transform="rotate(0 535.9 283.5)"/>
<circle cx="530.7" cy="289.5" r="4.1"/>
<ellipse cx="524.2" cy="290.4" rx="2.4" ry="4.1" transform="rotate(0 524.2 290.4)"/>
</g>
<g clip-path="url(#bc2)">
<g fill="#5890d6">
<circle cx="416.7" cy="231.7" r="6.9"/>
<circle cx="411.3" cy="236.3" r="3.7"/>
<circle cx="430.7" cy="238.3" r="9.4"/>
<ellipse cx="446.0" cy="243.0" rx="11.1" ry="6.2" transform="rotate(10 446.0 243.0)"/>
<circle cx="456.7" cy="247.7" r="7.4"/>
<circle cx="464.0" cy="250.3" r="6.9"/>
<circle cx="457.6" cy="248.2" r="7.0"/>
<circle cx="471.4" cy="251.6" r="8.0"/>
<circle cx="485.1" cy="246.5" r="8.9"/>
<circle cx="487.7" cy="252.5" r="7.0"/>
<circle cx="477.4" cy="257.7" r="8.0"/>
<circle cx="481.7" cy="264.5" r="8.9"/>
<circle cx="506.6" cy="263.7" r="7.0"/>
<circle cx="515.2" cy="268.8" r="8.9"/>
<ellipse cx="535.9" cy="283.5" rx="3.2" ry="4.5" transform="rotate(0 535.9 283.5)"/>
</g>
<g fill="#3c69c4">
<circle cx="416.7" cy="231.7" r="3.7"/>
<circle cx="411.3" cy="236.3" r="2.0"/>
<circle cx="430.7" cy="238.3" r="5.1"/>
<ellipse cx="446.0" cy="243.0" rx="6.0" ry="3.3" transform="rotate(10 446.0 243.0)"/>
<circle cx="456.7" cy="247.7" r="4.0"/>
<circle cx="464.0" cy="250.3" r="3.7"/>
<circle cx="457.6" cy="248.2" r="3.8"/>
<circle cx="471.4" cy="251.6" r="4.3"/>
<circle cx="485.1" cy="246.5" r="4.8"/>
<circle cx="487.7" cy="252.5" r="3.8"/>
<circle cx="477.4" cy="257.7" r="4.3"/>
<circle cx="481.7" cy="264.5" r="4.8"/>
<circle cx="506.6" cy="263.7" r="3.8"/>
<circle cx="515.2" cy="268.8" r="4.8"/>
<ellipse cx="535.9" cy="283.5" rx="1.7" ry="2.4" transform="rotate(0 535.9 283.5)"/>
<circle cx="430.7" cy="239.0" r="4.7"/>
<ellipse cx="446.0" cy="243.7" rx="7.5" ry="3.2" transform="rotate(10 446.0 243.7)"/>
<circle cx="451.3" cy="244.3" r="3.0"/>
<circle cx="458.0" cy="248.3" r="3.4"/>
<circle cx="464.0" cy="251.0" r="3.0"/>
<circle cx="457.6" cy="248.2" r="2.8"/>
<circle cx="471.4" cy="251.6" r="2.8"/>
<circle cx="485.1" cy="246.5" r="3.9"/>
<circle cx="487.7" cy="252.5" r="2.8"/>
<circle cx="477.4" cy="257.7" r="2.8"/>
<circle cx="481.7" cy="264.5" r="3.9"/>
<circle cx="506.6" cy="263.7" r="3.3"/>
<circle cx="515.2" cy="268.8" r="5.0"/>
<ellipse cx="536.2" cy="282.6" rx="1.9" ry="2.8" transform="rotate(0 536.2 282.6)"/>
</g>
</g>
<g fill="#2440a6">
<circle cx="430.7" cy="239.0" r="2.9"/>
<ellipse cx="446.0" cy="243.7" rx="4.7" ry="2.0" transform="rotate(10 446.0 243.7)"/>
<circle cx="451.3" cy="244.3" r="1.9"/>
<circle cx="458.0" cy="248.3" r="2.1"/>
<circle cx="464.0" cy="251.0" r="1.9"/>
<circle cx="457.6" cy="248.2" r="1.7"/>
<circle cx="471.4" cy="251.6" r="1.7"/>
<circle cx="485.1" cy="246.5" r="2.4"/>
<circle cx="487.7" cy="252.5" r="1.7"/>
<circle cx="477.4" cy="257.7" r="1.7"/>
<circle cx="481.7" cy="264.5" r="2.4"/>
<circle cx="506.6" cy="263.7" r="2.1"/>
<circle cx="515.2" cy="268.8" r="3.1"/>
<ellipse cx="536.2" cy="282.6" rx="1.2" ry="1.7" transform="rotate(0 536.2 282.6)"/>
</g>
<g fill="#6eaee0">
</g>
</g>
<g transform="translate(348.3 0)">
<path d="M37.5 291.7 C39.2 292.5 40.7 294.4 42.5 295.8 C44.3 297.2 46.2 298.9 48.3 300.0 C50.4 301.1 52.5 302.4 55.0 302.5 C57.5 302.6 60.7 301.5 63.3 300.8 C66.0 300.1 68.9 299.3 70.8 298.3 C72.8 297.4 73.5 296.1 75.0 295.0 C76.5 293.9 78.1 292.6 80.0 291.7 C81.9 290.7 84.7 289.8 86.7 289.2 C88.6 288.6 90.0 287.9 91.7 288.0 C93.3 288.1 95.0 289.1 96.7 289.7 C98.3 290.3 100.1 290.8 101.7 291.7 C103.2 292.6 104.8 293.6 105.8 295.0 C106.9 296.4 107.7 298.1 108.0 300.0 C108.3 301.9 108.1 304.6 107.5 306.7 C106.9 308.8 105.3 310.4 104.2 312.5 C103.1 314.6 102.1 317.1 100.8 319.2 C99.6 321.2 98.2 323.1 96.7 325.0 C95.1 326.9 93.6 328.9 91.7 330.8 C89.7 332.8 87.2 334.9 85.0 336.7 C82.8 338.5 80.8 340.1 78.3 341.7 C75.8 343.2 72.6 344.6 70.0 345.8 C67.4 347.1 64.4 348.3 62.5 349.2 C60.6 350.0 59.1 349.9 58.3 350.8 C57.6 351.8 59.9 354.3 58.0 355.0 C56.1 355.7 48.9 355.7 47.0 355.0 C45.1 354.3 47.4 352.4 46.7 350.8 C45.9 349.3 43.6 347.6 42.5 345.8 C41.4 344.0 40.6 342.1 40.3 340.0 C40.1 337.9 40.3 335.3 40.8 333.3 C41.3 331.4 42.4 330.0 43.3 328.3 C44.3 326.7 45.4 325.1 46.7 323.3 C47.9 321.5 49.4 319.3 50.8 317.5 C52.2 315.7 54.1 313.9 55.0 312.5 C55.9 311.1 56.3 310.2 56.3 309.2 C56.3 308.1 55.6 306.9 55.0 306.3 C54.4 305.8 53.3 305.6 52.5 305.8 C51.7 306.0 51.0 306.5 50.0 307.5 C49.0 308.5 47.9 310.4 46.7 311.7 C45.4 312.9 44.0 314.1 42.5 315.0 C41.0 315.9 39.2 316.6 37.5 317.0 C35.8 317.4 33.3 321.8 32.5 317.5 C31.7 313.2 31.7 295.3 32.5 291.0 C33.3 286.7 35.8 290.9 37.5 291.7Z" fill="#b3ada5"/>
<g filter="url(#rough)">
<path d="M34.7 289.3 C35.1 289.7 36.2 290.6 37.5 291.7 C38.8 292.8 40.7 294.4 42.5 295.8 C44.3 297.2 46.2 298.9 48.3 300.0 C50.4 301.1 52.5 302.4 55.0 302.5 C57.5 302.6 60.7 301.5 63.3 300.8 C66.0 300.1 68.9 299.3 70.8 298.3 C72.8 297.4 73.5 296.1 75.0 295.0 C76.5 293.9 78.1 292.6 80.0 291.7 C81.9 290.7 84.7 289.8 86.7 289.2 C88.6 288.6 90.0 287.9 91.7 288.0 C93.3 288.1 95.0 289.1 96.7 289.7 C98.3 290.3 100.1 290.8 101.7 291.7 C103.2 292.6 104.8 293.6 105.8 295.0 C106.9 296.4 107.7 298.1 108.0 300.0 C108.3 301.9 108.1 304.6 107.5 306.7 C106.9 308.8 105.3 310.4 104.2 312.5 C103.1 314.6 102.1 317.1 100.8 319.2 C99.6 321.2 98.2 323.1 96.7 325.0 C95.1 326.9 93.6 328.9 91.7 330.8 C89.7 332.8 87.2 334.9 85.0 336.7 C82.8 338.5 80.8 340.1 78.3 341.7 C75.8 343.2 72.6 344.6 70.0 345.8 C67.4 347.1 64.4 348.3 62.5 349.2 C60.6 350.0 59.3 350.3 58.3 350.8 C57.4 351.4 56.9 352.1 56.7 352.3" fill="none" stroke="#1f6b3b" stroke-width="1.5"/>
<path d="M47.7 352.3 C47.5 352.1 47.5 351.9 46.7 350.8 C45.8 349.8 43.6 347.6 42.5 345.8 C41.4 344.0 40.6 342.1 40.3 340.0 C40.1 337.9 40.3 335.3 40.8 333.3 C41.3 331.4 42.4 330.0 43.3 328.3 C44.3 326.7 45.4 325.1 46.7 323.3 C47.9 321.5 49.4 319.3 50.8 317.5 C52.2 315.7 54.1 313.9 55.0 312.5 C55.9 311.1 56.3 310.2 56.3 309.2 C56.3 308.1 55.6 306.9 55.0 306.3 C54.4 305.8 53.3 305.6 52.5 305.8 C51.7 306.0 51.0 306.5 50.0 307.5 C49.0 308.5 47.9 310.4 46.7 311.7 C45.4 312.9 44.0 314.1 42.5 315.0 C41.0 315.9 38.8 316.5 37.5 317.0 C36.2 317.5 35.1 317.7 34.7 317.8" fill="none" stroke="#1f6b3b" stroke-width="1.5"/>
<path d="M98.3 289.7 C99.1 290.1 101.6 291.0 103.0 292.0 C104.4 293.0 105.8 294.3 106.7 295.7 C107.6 297.1 108.2 298.5 108.3 300.3 C108.5 302.2 108.3 304.7 107.7 306.7 C107.1 308.6 105.2 311.1 104.7 312.0" fill="none" stroke="#1f6b3b" stroke-width="2.4"/>
<path d="M98.3 289.7 C99.1 290.1 101.6 291.0 103.0 292.0 C104.4 293.0 105.8 294.3 106.7 295.7 C107.6 297.1 108.2 298.5 108.3 300.3 C108.5 302.2 108.3 304.7 107.7 306.7 C107.1 308.6 105.2 311.1 104.7 312.0" fill="none" stroke="#1f6b3b" stroke-width="4.2" stroke-dasharray="1.1 1.0"/>
</g>
<path d="M178.0 193.6 C175.0 194.3 177.9 196.1 178.2 197.5 C178.5 198.9 180.0 200.8 180.0 202.0 C180.0 203.3 179.1 204.3 178.2 205.1 C177.3 205.9 175.7 206.0 174.6 206.9 C173.5 207.8 172.6 209.4 171.6 210.5 C170.6 211.6 169.5 212.3 168.6 213.5 C167.7 214.7 167.0 216.2 166.1 217.7 C165.2 219.2 163.7 221.1 163.1 222.5 C162.5 223.9 162.3 224.9 162.5 226.1 C162.7 227.3 164.3 228.6 164.3 229.8 C164.3 231.0 163.3 232.1 162.5 233.4 C161.7 234.7 160.4 236.2 159.5 237.6 C158.6 239.0 157.7 240.4 157.1 241.8 C156.5 243.2 155.9 244.7 155.9 246.0 C155.9 247.3 156.4 248.6 157.1 249.6 C157.8 250.6 159.3 252.0 160.1 252.0 C160.9 252.0 161.6 250.6 161.9 249.6 C162.2 248.6 161.5 247.5 161.9 246.0 C162.3 244.5 163.6 242.3 164.3 240.6 C165.0 238.9 165.7 237.2 166.1 235.8 C166.5 234.4 165.9 233.1 166.7 232.2 C167.6 231.3 169.3 230.8 171.0 230.4 C172.7 230.0 175.4 230.1 177.0 229.8 C178.6 229.5 179.9 229.3 180.6 228.6 C181.3 227.9 181.0 226.5 181.2 225.5 C181.4 224.5 181.1 223.6 181.8 222.5 C182.5 221.4 183.7 220.1 185.4 218.9 C187.1 217.7 190.3 216.2 192.0 215.3 C193.8 214.4 195.1 217.1 195.7 213.5 C196.3 209.9 198.6 196.9 195.7 193.6 C192.7 190.3 180.9 193.0 178.0 193.6Z" fill="#b3ada5" stroke="#1f6b3b" stroke-width="1.5" filter="url(#rough)"/>
<ellipse cx="186" cy="225" rx="2.2" ry="3.2" fill="#fff" stroke="#1f6b3b" stroke-width="1.2"/>
</g>
<g stroke="#2c2c2c" stroke-width="0.85" stroke-dasharray="1 1.55">
<line x1="403.3" y1="197.4" x2="403.3" y2="350.8"/>
<line x1="461.5" y1="197.4" x2="461.5" y2="350.8"/>
<line x1="519.8" y1="197.4" x2="519.8" y2="350.8"/>
<line x1="385.7" y1="247.6" x2="541.4" y2="247.6"/>
<line x1="385.7" y1="319.0" x2="541.4" y2="319.0"/>
</g>
</g>
<rect x="385.7" y="197.4" width="155.7" height="153.4" fill="none" stroke="#4a4a4a" stroke-width="1"/>
<line x1="403.3" y1="350.8" x2="403.3" y2="355.3" stroke="#4a4a4a" stroke-width="0.9"/>
<text x="404.7" y="367.5" font-size="12.3" fill="#333" textLength="33.0" lengthAdjust="spacingAndGlyphs" text-anchor="middle" >135° E</text>
<line x1="461.5" y1="350.8" x2="461.5" y2="355.3" stroke="#4a4a4a" stroke-width="0.9"/>
<text x="460.6" y="367.5" font-size="12.3" fill="#333" textLength="42.0" lengthAdjust="spacingAndGlyphs" text-anchor="middle" >135.5° E</text>
<line x1="519.8" y1="350.8" x2="519.8" y2="355.3" stroke="#4a4a4a" stroke-width="0.9"/>
<text x="521.2" y="367.5" font-size="12.3" fill="#333" textLength="32.9" lengthAdjust="spacingAndGlyphs" text-anchor="middle" >136° E</text>
<line x1="31.5" y1="247.6" x2="37.4" y2="247.6" stroke="#4a4a4a" stroke-width="0.9"/>
<text x="28.6" y="248.1" font-size="12.3" fill="#333" textLength="29.3" lengthAdjust="spacingAndGlyphs" text-anchor="middle" transform="rotate(-90 28.6 248.1)">35° N</text>
<line x1="31.5" y1="319.0" x2="37.4" y2="319.0" stroke="#4a4a4a" stroke-width="0.9"/>
<text x="28.6" y="319.5" font-size="12.3" fill="#333" textLength="38.6" lengthAdjust="spacingAndGlyphs" text-anchor="middle" transform="rotate(-90 28.6 319.5)">34.5° N</text>
<text x="72.5" y="190.0" font-size="12.0" fill="#222" textLength="79.5" lengthAdjust="spacingAndGlyphs" font-weight="700" >Observations</text>
<text x="235.0" y="190.0" font-size="12.0" fill="#222" textLength="100.5" lengthAdjust="spacingAndGlyphs" font-weight="700" >Traditional (1 km)</text>
<text x="428.0" y="190.0" font-size="12.0" fill="#222" textLength="72.0" lengthAdjust="spacingAndGlyphs" font-weight="700" >BDA (100 m)</text>
<rect x="556.7" y="332.37" width="12.6" height="10.43" fill="#a9e0e6" shape-rendering="crispEdges"/>
<rect x="556.7" y="322.54" width="12.6" height="10.43" fill="#93d4e4" shape-rendering="crispEdges"/>
<rect x="556.7" y="312.71" width="12.6" height="10.43" fill="#7cc5e2" shape-rendering="crispEdges"/>
<rect x="556.7" y="302.89" width="12.6" height="10.43" fill="#6bb4de" shape-rendering="crispEdges"/>
<rect x="556.7" y="293.06" width="12.6" height="10.43" fill="#5fa3d9" shape-rendering="crispEdges"/>
<rect x="556.7" y="283.23" width="12.6" height="10.43" fill="#5491d3" shape-rendering="crispEdges"/>
<rect x="556.7" y="273.40" width="12.6" height="10.43" fill="#4a80cc" shape-rendering="crispEdges"/>
<rect x="556.7" y="263.57" width="12.6" height="10.43" fill="#416fc3" shape-rendering="crispEdges"/>
<rect x="556.7" y="253.74" width="12.6" height="10.43" fill="#385eb9" shape-rendering="crispEdges"/>
<rect x="556.7" y="243.91" width="12.6" height="10.43" fill="#3150ae" shape-rendering="crispEdges"/>
<rect x="556.7" y="234.09" width="12.6" height="10.43" fill="#2a44a3" shape-rendering="crispEdges"/>
<rect x="556.7" y="224.26" width="12.6" height="10.43" fill="#243a97" shape-rendering="crispEdges"/>
<rect x="556.7" y="214.43" width="12.6" height="10.43" fill="#1f318b" shape-rendering="crispEdges"/>
<rect x="556.7" y="204.60" width="12.6" height="10.43" fill="#1c2a80" shape-rendering="crispEdges"/>
<path d="M556.7 342.2 L569.3 342.2 L563.0 352.4 Z" fill="#cdeeed"/>
<path d="M556.7 204.8 L569.3 204.8 L563.0 195.3 Z" fill="#1a2272"/>
<line x1="565.7" y1="207.3" x2="569.0" y2="207.3" stroke="#1d2766" stroke-width="0.8"/>
<line x1="565.7" y1="217.4" x2="569.0" y2="217.4" stroke="#1d2766" stroke-width="0.8"/>
<line x1="565.7" y1="227.5" x2="569.0" y2="227.5" stroke="#1d2766" stroke-width="0.8"/>
<line x1="565.7" y1="237.5" x2="569.0" y2="237.5" stroke="#1d2766" stroke-width="0.8"/>
<line x1="565.7" y1="247.6" x2="569.0" y2="247.6" stroke="#1d2766" stroke-width="0.8"/>
<line x1="565.7" y1="257.7" x2="569.0" y2="257.7" stroke="#1d2766" stroke-width="0.8"/>
<line x1="565.7" y1="267.8" x2="569.0" y2="267.8" stroke="#1d2766" stroke-width="0.8"/>
<line x1="565.7" y1="277.9" x2="569.0" y2="277.9" stroke="#1d2766" stroke-width="0.8"/>
<line x1="565.7" y1="287.9" x2="569.0" y2="287.9" stroke="#1d2766" stroke-width="0.8"/>
<line x1="565.7" y1="298.0" x2="569.0" y2="298.0" stroke="#1d2766" stroke-width="0.8"/>
<line x1="565.7" y1="308.1" x2="569.0" y2="308.1" stroke="#1d2766" stroke-width="0.8"/>
<line x1="565.7" y1="318.2" x2="569.0" y2="318.2" stroke="#1d2766" stroke-width="0.8"/>
<line x1="565.7" y1="328.3" x2="569.0" y2="328.3" stroke="#1d2766" stroke-width="0.8"/>
<line x1="565.7" y1="338.3" x2="569.0" y2="338.3" stroke="#1d2766" stroke-width="0.8"/>
<text x="571.3" y="232.0" font-size="11.5" fill="#505050" textLength="11.5" lengthAdjust="spacingAndGlyphs" >57</text>
<text x="571.3" y="262.1" font-size="11.5" fill="#505050" textLength="11.5" lengthAdjust="spacingAndGlyphs" >47</text>
<text x="571.3" y="292.0" font-size="11.5" fill="#505050" textLength="11.5" lengthAdjust="spacingAndGlyphs" >36</text>
<text x="571.3" y="322.0" font-size="11.5" fill="#505050" textLength="11.5" lengthAdjust="spacingAndGlyphs" >25</text>
<text x="571.3" y="346.0" font-size="11.5" fill="#505050" textLength="11.5" lengthAdjust="spacingAndGlyphs" >15</text>
<text x="0.0" y="0.0" font-size="12.0" fill="#222" textLength="22.0" lengthAdjust="spacingAndGlyphs" text-anchor="middle" transform="translate(589.7 277.5) rotate(90)">dBZ</text>
<text x="1.3" y="403.0" font-size="17.0" fill="#111" textLength="9.3" lengthAdjust="spacingAndGlyphs" font-weight="700" stroke="#111" stroke-width="0.5">c</text>
<text x="79.2" y="402.5" font-size="12.0" fill="#222" textLength="79.5" lengthAdjust="spacingAndGlyphs" font-weight="700" >Observations</text>
<text x="212.0" y="402.5" font-size="12.0" fill="#222" textLength="144.5" lengthAdjust="spacingAndGlyphs" font-weight="700" >Traditional (radiosonde)</text>
<text x="413.0" y="402.5" font-size="12.0" fill="#222" textLength="108.0" lengthAdjust="spacingAndGlyphs" font-weight="700" >BDA (smartphone)</text>
<clipPath id="mc0"><rect x="39.1" y="411.9" width="153.7" height="153.7"/></clipPath>
<g clip-path="url(#mc0)">
<g filter="url(#bl2)">
<path d="M63.6 456.3 L65.3 448.6 L70.5 442.5 L76.5 437.4 L80.8 432.2 L87.7 427.9 L95.4 424.5 L100.1 424.0 L100.6 428.8 L98.0 435.7 L93.7 440.8 L89.4 445.1 L84.3 449.4 L79.1 452.0 L74.8 456.3 L73.1 461.5 L71.4 465.8 L67.9 466.6 L65.3 462.3Z" fill="#a9c5ea"/>
<path d="M73.1 472.7 L76.5 466.6 L80.8 460.6 L86.8 453.7 L92.9 448.6 L99.8 446.0 L105.8 445.6 L106.6 451.1 L104.1 456.3 L99.8 461.5 L95.4 464.9 L89.4 466.6 L83.4 470.1 L78.2 473.5Z" fill="#a9c5ea"/>
<path d="M97.2 475.2 L102.3 473.5 L108.4 475.2 L114.4 479.5 L120.4 483.0 L127.3 481.3 L132.5 476.1 L136.8 475.2 L137.3 479.5 L134.2 483.8 L130.7 489.0 L125.6 492.5 L122.1 497.6 L117.0 501.1 L110.9 504.5 L105.8 504.5 L104.9 501.9 L110.1 499.3 L112.7 494.2 L111.8 489.0 L106.6 485.6 L100.6 483.0 L97.2 479.5Z" fill="#a9c5ea"/>
<path d="M73.9 444.3 L80.8 437.4 L89.4 433.1 L92.0 434.8 L87.7 440.8 L80.8 446.0 L75.7 448.6Z" fill="#90a9de"/>
<path d="M85.1 456.3 L92.0 450.3 L98.9 448.6 L101.5 451.1 L96.3 457.2 L91.1 458.0Z" fill="#90a9de"/>
<path d="M65.0 458.9 L67.4 449.4 L71.0 442.5 L73.6 443.1 L72.9 448.0 L71.9 450.8 L80.8 446.7 L83.4 448.4 L76.0 453.9 L71.5 454.9 L69.5 459.1 L67.0 460.1Z" fill="#2b2f8c"/>
<path d="M76.5 470.9 L80.8 464.9 L86.0 460.6 L90.3 458.0 L93.7 461.5 L95.4 464.1 L89.4 466.3 L83.4 468.4 L79.1 471.8Z" fill="#20207f"/>
<g fill="#a9c5ea">
<circle cx="80.8" cy="477.3" r="2.8"/>
<ellipse cx="92.0" cy="474.4" rx="4.3" ry="2.4" transform="rotate(-10 92.0 474.4)"/>
<circle cx="95.4" cy="470.1" r="1.4"/>
<ellipse cx="114.4" cy="466.1" rx="1.0" ry="3.1" transform="rotate(0 114.4 466.1)"/>
<ellipse cx="149.3" cy="476.1" rx="3.8" ry="1.9" transform="rotate(-30 149.3 476.1)"/>
<circle cx="55.9" cy="469.2" r="1.4"/>
<ellipse cx="91.1" cy="487.6" rx="1.7" ry="0.9" transform="rotate(0 91.1 487.6)"/>
<circle cx="82.5" cy="483.0" r="1.7"/>
<circle cx="101.5" cy="484.7" r="1.0"/>
<ellipse cx="65.3" cy="446.0" rx="1.7" ry="0.9" transform="rotate(-40 65.3 446.0)"/>
</g>
<g fill="#20207f">
<ellipse cx="82.5" cy="479.5" rx="1.5" ry="0.9" transform="rotate(0 82.5 479.5)"/>
<circle cx="119.5" cy="490.7" r="0.9"/>
<circle cx="123.8" cy="484.2" r="0.7"/>
<circle cx="120.4" cy="493.3" r="0.5"/>
<circle cx="114.4" cy="488.1" r="0.5"/>
</g>
</g>
<path d="M114.10 464.40 h1.25 v1.50 h-1.25zM112.85 465.65 h3.75 v1.50 h-3.75zM95.35 468.15 h1.25 v1.50 h-1.25zM94.10 469.40 h3.75 v1.50 h-3.75zM94.10 470.65 h1.25 v1.50 h-1.25zM89.10 471.90 h3.75 v1.50 h-3.75zM95.35 471.90 h7.50 v1.50 h-7.50zM90.35 473.15 h10.00 v1.50 h-10.00zM101.60 473.15 h3.75 v1.50 h-3.75zM132.85 473.15 h2.50 v1.50 h-2.50zM79.10 474.40 h1.25 v1.50 h-1.25zM81.60 474.40 h1.25 v1.50 h-1.25zM89.10 474.40 h18.75 v1.50 h-18.75zM130.35 474.40 h5.00 v1.50 h-5.00zM77.85 475.65 h6.25 v1.50 h-6.25zM90.35 475.65 h18.75 v1.50 h-18.75zM114.10 475.65 h1.25 v1.50 h-1.25zM130.35 475.65 h7.50 v1.50 h-7.50zM77.85 476.90 h5.00 v1.50 h-5.00zM91.60 476.90 h1.25 v1.50 h-1.25zM95.35 476.90 h5.00 v1.50 h-5.00zM101.60 476.90 h12.50 v1.50 h-12.50zM130.35 476.90 h7.50 v1.50 h-7.50zM77.85 478.15 h6.25 v1.50 h-6.25zM100.35 478.15 h15.00 v1.50 h-15.00zM124.10 478.15 h5.00 v1.50 h-5.00zM130.35 478.15 h6.25 v1.50 h-6.25zM79.10 479.40 h2.50 v1.50 h-2.50zM107.85 479.40 h7.50 v1.50 h-7.50zM119.10 479.40 h1.25 v1.50 h-1.25zM122.85 479.40 h6.25 v1.50 h-6.25zM131.60 479.40 h5.00 v1.50 h-5.00zM106.60 480.65 h1.25 v1.50 h-1.25zM109.10 480.65 h21.25 v1.50 h-21.25zM114.10 481.90 h7.50 v1.50 h-7.50zM124.10 481.90 h6.25 v1.50 h-6.25zM114.10 483.15 h8.75 v1.50 h-8.75zM124.10 483.15 h5.00 v1.50 h-5.00zM115.35 484.40 h7.50 v1.50 h-7.50zM125.35 484.40 h2.50 v1.50 h-2.50zM86.60 485.65 h2.50 v1.50 h-2.50zM116.60 485.65 h7.50 v1.50 h-7.50zM86.60 486.90 h2.50 v1.50 h-2.50zM117.85 486.90 h1.25 v1.50 h-1.25zM120.35 486.90 h5.00 v1.50 h-5.00zM120.35 488.15 h6.25 v1.50 h-6.25zM120.35 489.40 h7.50 v1.50 h-7.50zM120.35 490.65 h7.50 v1.50 h-7.50zM121.60 491.90 h6.25 v1.50 h-6.25zM116.60 493.15 h1.25 v1.50 h-1.25zM121.60 493.15 h5.00 v1.50 h-5.00zM112.85 494.40 h1.25 v1.50 h-1.25zM115.35 494.40 h5.00 v1.50 h-5.00zM124.10 494.40 h1.25 v1.50 h-1.25zM112.85 495.65 h7.50 v1.50 h-7.50zM112.85 496.90 h8.75 v1.50 h-8.75zM112.85 498.15 h7.50 v1.50 h-7.50zM115.35 499.40 h3.75 v1.50 h-3.75zM107.85 500.65 h3.75 v1.50 h-3.75zM116.60 500.65 h1.25 v1.50 h-1.25zM105.35 501.90 h6.25 v1.50 h-6.25zM106.60 503.15 h6.25 v1.50 h-6.25zM106.60 504.40 h6.25 v1.50 h-6.25z" fill="#a9c5ea"/>
<g fill="#20207f">
<ellipse cx="82.5" cy="479.5" rx="1.5" ry="0.9" transform="rotate(0 82.5 479.5)"/>
<circle cx="119.5" cy="490.7" r="0.9"/>
<circle cx="123.8" cy="484.2" r="0.7"/>
<circle cx="120.4" cy="493.3" r="0.5"/>
<circle cx="114.4" cy="488.1" r="0.5"/>
</g>
<g fill="#a9c5ea">
<ellipse cx="144.4" cy="536.2" rx="6.2" ry="2.0" transform="rotate(-30 144.4 536.2)"/>
</g>
<g transform="translate(0.0 0)" fill="none" stroke="#111" stroke-linecap="round">
<path d="M86 412.5 q0.3 2.5 2.2 3.2" stroke-width="1.3"/>
<path d="M40 420.5 q1.2 3 0 6" stroke-width="1.4"/>
<path d="M161 422.3 l1.8 0.4 l-1.6 2.6 l1.6 1.8 l-1 2.4" stroke-width="1.1"/>
<path d="M174.3 459.3 c0.6 -2.6 3 -2.2 4 -4.6 c1 -2.6 1.2 -5.6 6.6 -7" stroke-width="1.7"/>
<path d="M116 565.3 h3" stroke-width="1.2"/>
<path d="M168 412.2 h2.5" stroke-width="1"/>
</g>
</g>
<rect x="39.1" y="411.9" width="153.7" height="153.7" fill="none" stroke="#3a3a3a" stroke-width="1"/>
<text x="36.6" y="580.1" font-size="12.4" fill="#333" textLength="53.4" lengthAdjust="spacingAndGlyphs" >122.07° W</text>
<text x="139.2" y="580.1" font-size="12.4" fill="#333" textLength="52.4" lengthAdjust="spacingAndGlyphs" >115.45° W</text>
<clipPath id="mc1"><rect x="207.3" y="411.9" width="154.3" height="153.7"/></clipPath>
<g clip-path="url(#mc1)">
<path d="M226.22 411.90 h13.76 v1.97 h-13.76zM226.22 413.62 h17.20 v1.97 h-17.20zM224.50 415.34 h18.92 v1.97 h-18.92zM226.22 417.06 h17.20 v1.97 h-17.20zM224.50 418.78 h18.92 v1.97 h-18.92zM222.78 420.50 h1.72 v1.97 h-1.72zM226.22 420.50 h17.20 v1.97 h-17.20zM219.34 422.22 h1.72 v1.97 h-1.72zM222.78 422.22 h20.64 v1.97 h-20.64zM221.06 423.94 h20.64 v1.97 h-20.64zM219.34 425.66 h22.36 v1.97 h-22.36zM221.06 427.38 h24.08 v1.97 h-24.08zM221.06 429.10 h29.24 v1.97 h-29.24zM221.06 430.82 h32.68 v1.97 h-32.68zM221.06 432.54 h32.68 v1.97 h-32.68zM221.06 434.26 h32.68 v1.97 h-32.68zM214.18 435.98 h39.56 v1.97 h-39.56zM214.18 437.70 h41.28 v1.97 h-41.28zM210.74 439.42 h44.72 v1.97 h-44.72zM209.02 441.14 h32.68 v1.97 h-32.68zM243.42 441.14 h10.32 v1.97 h-10.32zM209.02 442.86 h41.28 v1.97 h-41.28zM209.02 444.58 h36.12 v1.97 h-36.12zM246.86 444.58 h1.72 v1.97 h-1.72zM210.74 446.30 h37.84 v1.97 h-37.84zM212.46 448.02 h32.68 v1.97 h-32.68zM212.46 449.74 h30.96 v1.97 h-30.96zM214.18 451.46 h8.60 v1.97 h-8.60zM224.50 451.46 h17.20 v1.97 h-17.20zM222.78 453.18 h18.92 v1.97 h-18.92zM221.06 454.90 h20.64 v1.97 h-20.64zM219.34 456.62 h1.72 v1.97 h-1.72zM222.78 456.62 h18.92 v1.97 h-18.92zM217.62 458.34 h27.52 v1.97 h-27.52zM217.62 460.06 h27.52 v1.97 h-27.52zM217.62 461.78 h25.80 v1.97 h-25.80zM221.06 463.50 h24.08 v1.97 h-24.08zM221.06 465.22 h24.08 v1.97 h-24.08zM222.78 466.94 h20.64 v1.97 h-20.64zM227.94 468.66 h17.20 v1.97 h-17.20zM226.22 470.38 h20.64 v1.97 h-20.64zM226.22 472.10 h22.36 v1.97 h-22.36zM224.50 473.82 h1.72 v1.97 h-1.72zM227.94 473.82 h18.92 v1.97 h-18.92zM248.58 473.82 h1.72 v1.97 h-1.72zM226.22 475.54 h24.08 v1.97 h-24.08zM227.94 477.26 h24.08 v1.97 h-24.08zM227.94 478.98 h22.36 v1.97 h-22.36zM231.38 480.70 h20.64 v1.97 h-20.64zM234.82 482.42 h15.48 v1.97 h-15.48zM234.82 484.14 h15.48 v1.97 h-15.48zM238.26 485.86 h13.76 v1.97 h-13.76zM239.98 487.58 h13.76 v1.97 h-13.76zM239.98 489.30 h13.76 v1.97 h-13.76zM245.14 491.02 h8.60 v1.97 h-8.60zM243.42 492.74 h8.60 v1.97 h-8.60zM245.14 494.46 h6.88 v1.97 h-6.88zM219.34 496.18 h6.88 v1.97 h-6.88zM219.34 497.90 h6.88 v1.97 h-6.88zM217.62 499.62 h8.60 v1.97 h-8.60zM217.62 501.34 h8.60 v1.97 h-8.60zM215.90 503.06 h10.32 v1.97 h-10.32zM214.18 504.78 h12.04 v1.97 h-12.04zM214.18 506.50 h12.04 v1.97 h-12.04zM215.90 508.22 h10.32 v1.97 h-10.32zM215.90 509.94 h10.32 v1.97 h-10.32zM212.46 511.66 h10.32 v1.97 h-10.32zM210.74 513.38 h10.32 v1.97 h-10.32zM210.74 515.10 h12.04 v1.97 h-12.04zM210.74 516.82 h12.04 v1.97 h-12.04zM209.02 518.54 h12.04 v1.97 h-12.04zM207.30 520.26 h13.76 v1.97 h-13.76zM209.02 521.98 h8.60 v1.97 h-8.60zM219.34 521.98 h1.72 v1.97 h-1.72zM207.30 523.70 h13.76 v1.97 h-13.76zM207.30 525.42 h13.76 v1.97 h-13.76zM207.30 527.14 h12.04 v1.97 h-12.04zM207.30 528.86 h10.32 v1.97 h-10.32zM207.30 530.58 h8.60 v1.97 h-8.60zM207.30 532.30 h10.32 v1.97 h-10.32zM207.30 534.02 h10.32 v1.97 h-10.32zM207.30 535.74 h8.60 v1.97 h-8.60zM207.30 537.46 h8.60 v1.97 h-8.60zM207.30 539.18 h6.88 v1.97 h-6.88zM207.30 540.90 h6.88 v1.97 h-6.88z" fill="#a9c5ea"/>
<path d="M231.38 411.90 h1.72 v1.97 h-1.72zM231.38 413.62 h6.88 v1.97 h-6.88zM229.66 415.34 h8.60 v1.97 h-8.60zM227.94 417.06 h12.04 v1.97 h-12.04zM229.66 418.78 h12.04 v1.97 h-12.04zM227.94 420.50 h12.04 v1.97 h-12.04zM226.22 422.22 h1.72 v1.97 h-1.72zM231.38 422.22 h6.88 v1.97 h-6.88zM226.22 423.94 h3.44 v1.97 h-3.44zM233.10 423.94 h5.16 v1.97 h-5.16zM224.50 425.66 h15.48 v1.97 h-15.48zM224.50 427.38 h15.48 v1.97 h-15.48zM222.78 429.10 h15.48 v1.97 h-15.48zM224.50 430.82 h12.04 v1.97 h-12.04zM248.58 430.82 h1.72 v1.97 h-1.72zM224.50 432.54 h10.32 v1.97 h-10.32zM246.86 432.54 h1.72 v1.97 h-1.72zM250.30 432.54 h1.72 v1.97 h-1.72zM227.94 434.26 h8.60 v1.97 h-8.60zM243.42 434.26 h6.88 v1.97 h-6.88zM243.42 435.98 h8.60 v1.97 h-8.60zM226.22 437.70 h3.44 v1.97 h-3.44zM233.10 437.70 h3.44 v1.97 h-3.44zM245.14 437.70 h6.88 v1.97 h-6.88zM215.90 439.42 h3.44 v1.97 h-3.44zM224.50 439.42 h15.48 v1.97 h-15.48zM245.14 439.42 h6.88 v1.97 h-6.88zM215.90 441.14 h8.60 v1.97 h-8.60zM226.22 441.14 h15.48 v1.97 h-15.48zM214.18 442.86 h10.32 v1.97 h-10.32zM227.94 442.86 h12.04 v1.97 h-12.04zM214.18 444.58 h8.60 v1.97 h-8.60zM226.22 444.58 h12.04 v1.97 h-12.04zM215.90 446.30 h6.88 v1.97 h-6.88zM226.22 446.30 h13.76 v1.97 h-13.76zM215.90 448.02 h6.88 v1.97 h-6.88zM226.22 448.02 h10.32 v1.97 h-10.32zM217.62 449.74 h1.72 v1.97 h-1.72zM229.66 449.74 h6.88 v1.97 h-6.88zM227.94 451.46 h1.72 v1.97 h-1.72zM233.10 451.46 h1.72 v1.97 h-1.72zM231.38 453.18 h5.16 v1.97 h-5.16zM227.94 454.90 h10.32 v1.97 h-10.32zM227.94 456.62 h12.04 v1.97 h-12.04zM224.50 458.34 h13.76 v1.97 h-13.76zM224.50 460.06 h12.04 v1.97 h-12.04zM222.78 461.78 h13.76 v1.97 h-13.76zM229.66 463.50 h6.88 v1.97 h-6.88zM229.66 465.22 h1.72 v1.97 h-1.72zM234.82 465.22 h5.16 v1.97 h-5.16zM231.38 466.94 h8.60 v1.97 h-8.60zM231.38 468.66 h10.32 v1.97 h-10.32zM229.66 470.38 h10.32 v1.97 h-10.32zM229.66 472.10 h10.32 v1.97 h-10.32zM229.66 473.82 h1.72 v1.97 h-1.72zM233.10 473.82 h8.60 v1.97 h-8.60zM234.82 475.54 h5.16 v1.97 h-5.16zM236.54 477.26 h3.44 v1.97 h-3.44zM243.42 478.98 h5.16 v1.97 h-5.16zM238.26 480.70 h10.32 v1.97 h-10.32zM236.54 482.42 h12.04 v1.97 h-12.04zM241.70 484.14 h5.16 v1.97 h-5.16zM241.70 485.86 h3.44 v1.97 h-3.44zM241.70 487.58 h3.44 v1.97 h-3.44zM246.86 487.58 h5.16 v1.97 h-5.16zM245.14 489.30 h5.16 v1.97 h-5.16zM246.86 491.02 h3.44 v1.97 h-3.44zM246.86 492.74 h3.44 v1.97 h-3.44zM221.06 497.90 h3.44 v1.97 h-3.44zM221.06 499.62 h3.44 v1.97 h-3.44zM221.06 501.34 h3.44 v1.97 h-3.44zM217.62 504.78 h5.16 v1.97 h-5.16zM217.62 506.50 h5.16 v1.97 h-5.16zM215.90 508.22 h6.88 v1.97 h-6.88zM217.62 509.94 h5.16 v1.97 h-5.16zM217.62 513.38 h1.72 v1.97 h-1.72zM214.18 515.10 h5.16 v1.97 h-5.16zM212.46 516.82 h8.60 v1.97 h-8.60zM212.46 518.54 h1.72 v1.97 h-1.72zM217.62 518.54 h1.72 v1.97 h-1.72zM212.46 520.26 h1.72 v1.97 h-1.72zM210.74 521.98 h5.16 v1.97 h-5.16zM210.74 523.70 h5.16 v1.97 h-5.16zM207.30 525.42 h8.60 v1.97 h-8.60zM209.02 527.14 h6.88 v1.97 h-6.88zM210.74 528.86 h3.44 v1.97 h-3.44zM209.02 530.58 h3.44 v1.97 h-3.44zM207.30 532.30 h6.88 v1.97 h-6.88zM207.30 534.02 h6.88 v1.97 h-6.88zM207.30 535.74 h5.16 v1.97 h-5.16zM207.30 537.46 h3.44 v1.97 h-3.44z" fill="#8eaadf"/>
<g fill="#a9c5ea">
<rect x="253.6" y="516.6" width="2.3" height="2.3"/>
<rect x="262.1" y="525.5" width="2.3" height="2.3"/>
<rect x="294.6" y="520.5" width="3.7" height="3.7"/>
<rect x="214.7" y="558.1" width="2.3" height="2.3"/>
<rect x="254.6" y="427.2" width="2.8" height="2.8"/>
<rect x="261.6" y="431.6" width="2.8" height="2.8"/>
<rect x="213.4" y="470.4" width="3.2" height="3.2"/>
<rect x="219.0" y="493.0" width="3.0" height="3.0"/>
<rect x="222.7" y="495.7" width="2.6" height="2.6"/>
</g>
<g fill="#20207f">
<rect x="230" y="424.1" width="5.9" height="2.2" transform="rotate(-20 232.9 425.2)"/>
<rect x="244.9" y="434.2" width="1.9" height="2.8"/>
<rect x="233.8" y="440.2" width="2.8" height="5.4" transform="rotate(-30 235.2 442.9)"/>
<rect x="230.5" y="446.6" width="2.5" height="2.8"/>
</g>
<g transform="translate(168.2 0)" fill="none" stroke="#111" stroke-linecap="round">
<path d="M86 412.5 q0.3 2.5 2.2 3.2" stroke-width="1.3"/>
<path d="M40 420.5 q1.2 3 0 6" stroke-width="1.4"/>
<path d="M161 422.3 l1.8 0.4 l-1.6 2.6 l1.6 1.8 l-1 2.4" stroke-width="1.1"/>
<path d="M174.3 459.3 c0.6 -2.6 3 -2.2 4 -4.6 c1 -2.6 1.2 -5.6 6.6 -7" stroke-width="1.7"/>
<path d="M116 565.3 h3" stroke-width="1.2"/>
<path d="M168 412.2 h2.5" stroke-width="1"/>
</g>
</g>
<rect x="207.3" y="411.9" width="154.3" height="153.7" fill="none" stroke="#3a3a3a" stroke-width="1"/>
<text x="207.0" y="580.1" font-size="12.4" fill="#333" textLength="53.4" lengthAdjust="spacingAndGlyphs" >122.07° W</text>
<text x="308.5" y="580.1" font-size="12.4" fill="#333" textLength="52.4" lengthAdjust="spacingAndGlyphs" >115.45° W</text>
<clipPath id="mc2"><rect x="388.4" y="411.9" width="153.9" height="153.7"/></clipPath>
<g clip-path="url(#mc2)">
<path d="M398.72 411.90 h13.76 v1.97 h-13.76zM395.28 413.62 h12.04 v1.97 h-12.04zM409.04 413.62 h3.44 v1.97 h-3.44zM414.20 413.62 h6.88 v1.97 h-6.88zM424.52 413.62 h3.44 v1.97 h-3.44zM395.28 415.34 h3.44 v1.97 h-3.44zM402.16 415.34 h3.44 v1.97 h-3.44zM412.48 415.34 h8.60 v1.97 h-8.60zM426.24 415.34 h1.72 v1.97 h-1.72zM393.56 417.06 h5.16 v1.97 h-5.16zM402.16 417.06 h5.16 v1.97 h-5.16zM412.48 417.06 h17.20 v1.97 h-17.20zM393.56 418.78 h5.16 v1.97 h-5.16zM400.44 418.78 h10.32 v1.97 h-10.32zM412.48 418.78 h18.92 v1.97 h-18.92zM391.84 420.50 h6.88 v1.97 h-6.88zM400.44 420.50 h30.96 v1.97 h-30.96zM391.84 422.22 h22.36 v1.97 h-22.36zM417.64 422.22 h13.76 v1.97 h-13.76zM391.84 423.94 h10.32 v1.97 h-10.32zM407.32 423.94 h6.88 v1.97 h-6.88zM417.64 423.94 h13.76 v1.97 h-13.76zM393.56 425.66 h3.44 v1.97 h-3.44zM402.16 425.66 h5.16 v1.97 h-5.16zM410.76 425.66 h20.64 v1.97 h-20.64zM402.16 427.38 h5.16 v1.97 h-5.16zM414.20 427.38 h15.48 v1.97 h-15.48zM393.56 429.10 h1.72 v1.97 h-1.72zM397.00 429.10 h1.72 v1.97 h-1.72zM410.76 429.10 h18.92 v1.97 h-18.92zM409.04 430.82 h20.64 v1.97 h-20.64zM410.76 432.54 h17.20 v1.97 h-17.20zM398.72 434.26 h3.44 v1.97 h-3.44zM410.76 434.26 h20.64 v1.97 h-20.64zM398.72 435.98 h3.44 v1.97 h-3.44zM409.04 435.98 h22.36 v1.97 h-22.36zM400.44 437.70 h1.72 v1.97 h-1.72zM405.60 437.70 h10.32 v1.97 h-10.32zM417.64 437.70 h15.48 v1.97 h-15.48zM398.72 439.42 h5.16 v1.97 h-5.16zM405.60 439.42 h10.32 v1.97 h-10.32zM417.64 439.42 h15.48 v1.97 h-15.48zM400.44 441.14 h27.52 v1.97 h-27.52zM429.68 441.14 h6.88 v1.97 h-6.88zM398.72 442.86 h29.24 v1.97 h-29.24zM429.68 442.86 h6.88 v1.97 h-6.88zM390.12 444.58 h44.72 v1.97 h-44.72zM390.12 446.30 h44.72 v1.97 h-44.72zM390.12 448.02 h43.00 v1.97 h-43.00zM390.12 449.74 h8.60 v1.97 h-8.60zM402.16 449.74 h30.96 v1.97 h-30.96zM391.84 451.46 h15.48 v1.97 h-15.48zM409.04 451.46 h10.32 v1.97 h-10.32zM421.08 451.46 h6.88 v1.97 h-6.88zM391.84 453.18 h13.76 v1.97 h-13.76zM412.48 453.18 h5.16 v1.97 h-5.16zM393.56 454.90 h13.76 v1.97 h-13.76zM409.04 454.90 h8.60 v1.97 h-8.60zM395.28 456.62 h18.92 v1.97 h-18.92zM417.64 456.62 h6.88 v1.97 h-6.88zM393.56 458.34 h20.64 v1.97 h-20.64zM417.64 458.34 h6.88 v1.97 h-6.88zM395.28 460.06 h5.16 v1.97 h-5.16zM403.88 460.06 h6.88 v1.97 h-6.88zM414.20 460.06 h6.88 v1.97 h-6.88zM424.52 460.06 h5.16 v1.97 h-5.16zM395.28 461.78 h3.44 v1.97 h-3.44zM405.60 461.78 h5.16 v1.97 h-5.16zM414.20 461.78 h6.88 v1.97 h-6.88zM424.52 461.78 h6.88 v1.97 h-6.88zM393.56 463.50 h6.88 v1.97 h-6.88zM405.60 463.50 h8.60 v1.97 h-8.60zM417.64 463.50 h5.16 v1.97 h-5.16zM424.52 463.50 h8.60 v1.97 h-8.60zM391.84 465.22 h10.32 v1.97 h-10.32zM405.60 465.22 h8.60 v1.97 h-8.60zM417.64 465.22 h15.48 v1.97 h-15.48zM390.12 466.94 h13.76 v1.97 h-13.76zM405.60 466.94 h10.32 v1.97 h-10.32zM417.64 466.94 h5.16 v1.97 h-5.16zM424.52 466.94 h6.88 v1.97 h-6.88zM391.84 468.66 h12.04 v1.97 h-12.04zM405.60 468.66 h24.08 v1.97 h-24.08zM388.40 470.38 h13.76 v1.97 h-13.76zM405.60 470.38 h24.08 v1.97 h-24.08zM388.40 472.10 h6.88 v1.97 h-6.88zM398.72 472.10 h1.72 v1.97 h-1.72zM409.04 472.10 h5.16 v1.97 h-5.16zM421.08 472.10 h8.60 v1.97 h-8.60zM388.40 473.82 h6.88 v1.97 h-6.88zM409.04 473.82 h5.16 v1.97 h-5.16zM421.08 473.82 h6.88 v1.97 h-6.88zM419.36 475.54 h5.16 v1.97 h-5.16zM414.20 477.26 h3.44 v1.97 h-3.44zM419.36 477.26 h5.16 v1.97 h-5.16zM405.60 478.98 h12.04 v1.97 h-12.04zM421.08 478.98 h5.16 v1.97 h-5.16zM407.32 480.70 h6.88 v1.97 h-6.88zM421.08 480.70 h6.88 v1.97 h-6.88zM409.04 482.42 h12.04 v1.97 h-12.04zM424.52 482.42 h3.44 v1.97 h-3.44zM409.04 484.14 h12.04 v1.97 h-12.04zM426.24 484.14 h3.44 v1.97 h-3.44zM431.40 484.14 h3.44 v1.97 h-3.44zM410.76 485.86 h18.92 v1.97 h-18.92zM431.40 485.86 h3.44 v1.97 h-3.44zM417.64 487.58 h1.72 v1.97 h-1.72zM421.08 487.58 h13.76 v1.97 h-13.76zM421.08 489.30 h13.76 v1.97 h-13.76zM395.28 491.02 h6.88 v1.97 h-6.88zM421.08 491.02 h12.04 v1.97 h-12.04zM395.28 492.74 h10.32 v1.97 h-10.32zM424.52 492.74 h8.60 v1.97 h-8.60zM395.28 494.46 h3.44 v1.97 h-3.44zM402.16 494.46 h6.88 v1.97 h-6.88zM427.96 494.46 h6.88 v1.97 h-6.88zM393.56 496.18 h13.76 v1.97 h-13.76zM427.96 496.18 h6.88 v1.97 h-6.88zM393.56 497.90 h13.76 v1.97 h-13.76zM393.56 499.62 h12.04 v1.97 h-12.04zM427.96 499.62 h1.72 v1.97 h-1.72zM395.28 501.34 h8.60 v1.97 h-8.60zM393.56 503.06 h8.60 v1.97 h-8.60zM390.12 504.78 h10.32 v1.97 h-10.32zM390.12 506.50 h8.60 v1.97 h-8.60zM388.40 508.22 h13.76 v1.97 h-13.76zM388.40 509.94 h15.48 v1.97 h-15.48zM390.12 511.66 h13.76 v1.97 h-13.76zM388.40 513.38 h15.48 v1.97 h-15.48zM390.12 515.10 h10.32 v1.97 h-10.32zM391.84 516.82 h6.88 v1.97 h-6.88zM390.12 518.54 h6.88 v1.97 h-6.88zM390.12 520.26 h8.60 v1.97 h-8.60zM390.12 521.98 h10.32 v1.97 h-10.32zM388.40 523.70 h12.04 v1.97 h-12.04zM388.40 525.42 h12.04 v1.97 h-12.04zM388.40 527.14 h10.32 v1.97 h-10.32zM388.40 528.86 h8.60 v1.97 h-8.60zM390.12 530.58 h3.44 v1.97 h-3.44zM393.56 532.30 h3.44 v1.97 h-3.44zM393.56 534.02 h3.44 v1.97 h-3.44zM388.40 535.74 h10.32 v1.97 h-10.32zM388.40 537.46 h10.32 v1.97 h-10.32zM388.40 539.18 h8.60 v1.97 h-8.60zM388.40 540.90 h5.16 v1.97 h-5.16zM390.12 542.62 h1.72 v1.97 h-1.72zM388.40 544.34 h3.44 v1.97 h-3.44zM395.28 544.34 h1.72 v1.97 h-1.72zM388.40 546.06 h10.32 v1.97 h-10.32zM388.40 547.78 h8.60 v1.97 h-8.60zM388.40 549.50 h10.32 v1.97 h-10.32zM388.40 551.22 h8.60 v1.97 h-8.60zM388.40 552.94 h3.44 v1.97 h-3.44zM393.56 552.94 h5.16 v1.97 h-5.16zM388.40 554.66 h1.72 v1.97 h-1.72zM395.28 554.66 h5.16 v1.97 h-5.16zM388.40 556.38 h3.44 v1.97 h-3.44zM395.28 556.38 h5.16 v1.97 h-5.16zM388.40 558.10 h5.16 v1.97 h-5.16zM395.28 558.10 h6.88 v1.97 h-6.88zM388.40 559.82 h12.04 v1.97 h-12.04zM390.12 561.54 h1.72 v1.97 h-1.72zM393.56 561.54 h5.16 v1.97 h-5.16zM391.84 563.26 h5.16 v1.97 h-5.16z" fill="#a9c5ea"/>
<path d="M402.16 413.62 h1.72 v1.97 h-1.72zM402.16 415.34 h3.44 v1.97 h-3.44zM402.16 417.06 h5.16 v1.97 h-5.16zM415.92 417.06 h1.72 v1.97 h-1.72zM395.28 418.78 h1.72 v1.97 h-1.72zM400.44 418.78 h8.60 v1.97 h-8.60zM415.92 418.78 h12.04 v1.97 h-12.04zM395.28 420.50 h1.72 v1.97 h-1.72zM400.44 420.50 h10.32 v1.97 h-10.32zM414.20 420.50 h13.76 v1.97 h-13.76zM397.00 422.22 h12.04 v1.97 h-12.04zM417.64 422.22 h10.32 v1.97 h-10.32zM397.00 423.94 h3.44 v1.97 h-3.44zM417.64 423.94 h8.60 v1.97 h-8.60zM402.16 425.66 h3.44 v1.97 h-3.44zM415.92 425.66 h10.32 v1.97 h-10.32zM419.36 427.38 h6.88 v1.97 h-6.88zM421.08 429.10 h1.72 v1.97 h-1.72zM421.08 430.82 h1.72 v1.97 h-1.72zM414.20 432.54 h1.72 v1.97 h-1.72zM410.76 434.26 h8.60 v1.97 h-8.60zM409.04 435.98 h8.60 v1.97 h-8.60zM424.52 435.98 h1.72 v1.97 h-1.72zM405.60 437.70 h10.32 v1.97 h-10.32zM417.64 437.70 h5.16 v1.97 h-5.16zM424.52 437.70 h3.44 v1.97 h-3.44zM405.60 439.42 h10.32 v1.97 h-10.32zM417.64 439.42 h10.32 v1.97 h-10.32zM405.60 441.14 h13.76 v1.97 h-13.76zM421.08 441.14 h6.88 v1.97 h-6.88zM429.68 441.14 h1.72 v1.97 h-1.72zM405.60 442.86 h13.76 v1.97 h-13.76zM421.08 442.86 h6.88 v1.97 h-6.88zM429.68 442.86 h3.44 v1.97 h-3.44zM405.60 444.58 h1.72 v1.97 h-1.72zM409.04 444.58 h8.60 v1.97 h-8.60zM421.08 444.58 h10.32 v1.97 h-10.32zM393.56 446.30 h6.88 v1.97 h-6.88zM407.32 446.30 h1.72 v1.97 h-1.72zM410.76 446.30 h1.72 v1.97 h-1.72zM421.08 446.30 h10.32 v1.97 h-10.32zM391.84 448.02 h8.60 v1.97 h-8.60zM410.76 448.02 h3.44 v1.97 h-3.44zM422.80 448.02 h6.88 v1.97 h-6.88zM393.56 449.74 h5.16 v1.97 h-5.16zM422.80 449.74 h3.44 v1.97 h-3.44zM393.56 451.46 h5.16 v1.97 h-5.16zM395.28 453.18 h3.44 v1.97 h-3.44zM403.88 453.18 h1.72 v1.97 h-1.72zM403.88 454.90 h3.44 v1.97 h-3.44zM410.76 454.90 h1.72 v1.97 h-1.72zM402.16 456.62 h10.32 v1.97 h-10.32zM402.16 458.34 h12.04 v1.97 h-12.04zM403.88 460.06 h6.88 v1.97 h-6.88zM419.36 460.06 h1.72 v1.97 h-1.72zM405.60 461.78 h5.16 v1.97 h-5.16zM415.92 461.78 h5.16 v1.97 h-5.16zM424.52 461.78 h1.72 v1.97 h-1.72zM405.60 463.50 h6.88 v1.97 h-6.88zM419.36 463.50 h3.44 v1.97 h-3.44zM424.52 463.50 h1.72 v1.97 h-1.72zM405.60 465.22 h6.88 v1.97 h-6.88zM417.64 465.22 h12.04 v1.97 h-12.04zM391.84 466.94 h6.88 v1.97 h-6.88zM407.32 466.94 h1.72 v1.97 h-1.72zM417.64 466.94 h5.16 v1.97 h-5.16zM424.52 466.94 h3.44 v1.97 h-3.44zM391.84 468.66 h6.88 v1.97 h-6.88zM417.64 468.66 h3.44 v1.97 h-3.44zM426.24 468.66 h1.72 v1.97 h-1.72zM391.84 470.38 h5.16 v1.97 h-5.16zM424.52 470.38 h1.72 v1.97 h-1.72zM393.56 472.10 h1.72 v1.97 h-1.72zM422.80 472.10 h1.72 v1.97 h-1.72zM412.48 473.82 h1.72 v1.97 h-1.72zM414.20 477.26 h3.44 v1.97 h-3.44zM419.36 477.26 h1.72 v1.97 h-1.72zM410.76 478.98 h6.88 v1.97 h-6.88zM412.48 480.70 h1.72 v1.97 h-1.72zM410.76 482.42 h1.72 v1.97 h-1.72zM415.92 482.42 h1.72 v1.97 h-1.72zM412.48 484.14 h1.72 v1.97 h-1.72zM426.24 484.14 h3.44 v1.97 h-3.44zM424.52 485.86 h5.16 v1.97 h-5.16zM422.80 487.58 h8.60 v1.97 h-8.60zM424.52 489.30 h5.16 v1.97 h-5.16zM403.88 492.74 h1.72 v1.97 h-1.72zM397.00 494.46 h1.72 v1.97 h-1.72zM402.16 494.46 h5.16 v1.97 h-5.16zM429.68 494.46 h1.72 v1.97 h-1.72zM395.28 496.18 h6.88 v1.97 h-6.88zM403.88 496.18 h1.72 v1.97 h-1.72zM427.96 496.18 h3.44 v1.97 h-3.44zM397.00 497.90 h5.16 v1.97 h-5.16zM397.00 499.62 h3.44 v1.97 h-3.44zM393.56 506.50 h5.16 v1.97 h-5.16zM391.84 508.22 h6.88 v1.97 h-6.88zM391.84 509.94 h8.60 v1.97 h-8.60zM391.84 511.66 h6.88 v1.97 h-6.88zM391.84 513.38 h1.72 v1.97 h-1.72zM395.28 513.38 h1.72 v1.97 h-1.72zM391.84 518.54 h1.72 v1.97 h-1.72zM390.12 520.26 h5.16 v1.97 h-5.16zM390.12 521.98 h6.88 v1.97 h-6.88zM390.12 523.70 h6.88 v1.97 h-6.88zM391.84 525.42 h5.16 v1.97 h-5.16zM388.40 535.74 h6.88 v1.97 h-6.88zM390.12 537.46 h3.44 v1.97 h-3.44zM391.84 539.18 h1.72 v1.97 h-1.72zM390.12 546.06 h5.16 v1.97 h-5.16zM388.40 547.78 h6.88 v1.97 h-6.88zM388.40 549.50 h6.88 v1.97 h-6.88zM390.12 551.22 h1.72 v1.97 h-1.72zM397.00 556.38 h1.72 v1.97 h-1.72zM391.84 558.10 h1.72 v1.97 h-1.72zM397.00 558.10 h1.72 v1.97 h-1.72zM391.84 559.82 h3.44 v1.97 h-3.44z" fill="#8eaadf"/>
<g fill="#a9c5ea">
<rect x="481.4" y="525.7" width="2.8" height="2.8"/>
<rect x="421.2" y="531.1" width="1.7" height="1.7"/>
<rect x="408.1" y="554.4" width="2.3" height="2.3"/>
<rect x="538.0" y="501.9" width="2.3" height="2.3"/>
<rect x="438.0" y="426.0" width="3.4" height="3.4"/>
</g>
<g fill="#20207f">
<rect x="399.8" y="437.5" width="11.5" height="2.8" transform="rotate(-45 405.6 438.9)"/>
<rect x="410.9" y="445.8" width="3.2" height="3.2" transform="rotate(0 412.5 447.4)"/>
<rect x="413.5" y="457.4" width="4.0" height="12.5" transform="rotate(12 415.5 463.6)"/>
<rect x="417.6" y="475.7" width="3.6" height="2.6" transform="rotate(0 419.4 477.0)"/>
<rect x="415.4" y="476.0" width="2.0" height="2.0" transform="rotate(0 416.4 477.0)"/>
<rect x="416.9" y="416.1" width="2.2" height="2.2" transform="rotate(0 418.0 417.2)"/>
<rect x="421.5" y="421.9" width="1.8" height="1.8" transform="rotate(0 422.4 422.8)"/>
<rect x="420.3" y="427.6" width="1.4" height="1.4" transform="rotate(0 421.0 428.3)"/>
<rect x="405.1" y="468.2" width="2.4" height="2.4" transform="rotate(0 406.3 469.4)"/>
<rect x="394.2" y="469.1" width="2.2" height="2.2" transform="rotate(0 395.3 470.2)"/>
<rect x="410.3" y="477.3" width="1.6" height="1.6" transform="rotate(0 411.1 478.1)"/>
<rect x="398.5" y="505.7" width="5.7" height="1.4" transform="rotate(-8 401.4 506.4)"/>
<rect x="395.1" y="514.3" width="2.6" height="2.0" transform="rotate(0 396.4 515.3)"/>
<rect x="388.8" y="519.7" width="4.3" height="6.4" transform="rotate(0 391.0 522.9)"/>
<rect x="389.4" y="534.4" width="2.0" height="2.6" transform="rotate(0 390.4 535.7)"/>
<rect x="407.1" y="497.1" width="1.6" height="1.6" transform="rotate(0 407.9 497.9)"/>
</g>
<path d="M532.2 497.5 l-0.5 4" stroke="#111" stroke-width="1.2" fill="none"/>
<g transform="translate(349.3 0)" fill="none" stroke="#111" stroke-linecap="round">
<path d="M86 412.5 q0.3 2.5 2.2 3.2" stroke-width="1.3"/>
<path d="M40 420.5 q1.2 3 0 6" stroke-width="1.4"/>
<path d="M161 422.3 l1.8 0.4 l-1.6 2.6 l1.6 1.8 l-1 2.4" stroke-width="1.1"/>
<path d="M174.3 459.3 c0.6 -2.6 3 -2.2 4 -4.6 c1 -2.6 1.2 -5.6 6.6 -7" stroke-width="1.7"/>
<path d="M116 565.3 h3" stroke-width="1.2"/>
<path d="M168 412.2 h2.5" stroke-width="1"/>
</g>
</g>
<rect x="388.4" y="411.9" width="153.9" height="153.7" fill="none" stroke="#3a3a3a" stroke-width="1"/>
<text x="385.9" y="580.1" font-size="12.4" fill="#333" textLength="53.4" lengthAdjust="spacingAndGlyphs" >122.07° W</text>
<text x="489.2" y="580.1" font-size="12.4" fill="#333" textLength="52.4" lengthAdjust="spacingAndGlyphs" >115.45° W</text>
<text x="0.0" y="0.0" font-size="12.3" fill="#333" textLength="46.5" lengthAdjust="spacingAndGlyphs" text-anchor="middle" transform="translate(33.3 436.5) rotate(-90)">47.90° N</text>
<text x="0.0" y="0.0" font-size="12.3" fill="#333" textLength="45.5" lengthAdjust="spacingAndGlyphs" text-anchor="middle" transform="translate(33.3 541) rotate(-90)">43.16° N</text>
<defs><linearGradient id="cg" x1="0" y1="0" x2="0" y2="1"><stop offset="0" stop-color="#23207a"/><stop offset="0.30" stop-color="#262a88"/><stop offset="0.45" stop-color="#2c44a3"/><stop offset="0.62" stop-color="#5474c3"/><stop offset="0.85" stop-color="#8dadde"/><stop offset="1" stop-color="#aacbea"/></linearGradient></defs>
<path d="M557.6 565.7 V416.6 L562.8 410 L568 416.6 V565.7Z" fill="url(#cg)"/>
<line x1="568" y1="415.7" x2="570" y2="415.7" stroke="#777" stroke-width="0.6"/>
<text x="571.6" y="419.9" font-size="11.8" fill="#4a4a4a" textLength="11.5" lengthAdjust="spacingAndGlyphs" >32</text>
<line x1="568" y1="434.9" x2="570" y2="434.9" stroke="#777" stroke-width="0.6"/>
<text x="571.6" y="439.1" font-size="11.8" fill="#4a4a4a" textLength="11.5" lengthAdjust="spacingAndGlyphs" >28</text>
<line x1="568" y1="454.1" x2="570" y2="454.1" stroke="#777" stroke-width="0.6"/>
<text x="571.6" y="458.3" font-size="11.8" fill="#4a4a4a" textLength="11.5" lengthAdjust="spacingAndGlyphs" >24</text>
<line x1="568" y1="473.2" x2="570" y2="473.2" stroke="#777" stroke-width="0.6"/>
<text x="571.6" y="477.4" font-size="11.8" fill="#4a4a4a" textLength="11.5" lengthAdjust="spacingAndGlyphs" >20</text>
<line x1="568" y1="492.4" x2="570" y2="492.4" stroke="#777" stroke-width="0.6"/>
<text x="571.6" y="496.6" font-size="11.8" fill="#4a4a4a" textLength="11.5" lengthAdjust="spacingAndGlyphs" >16</text>
<line x1="568" y1="511.6" x2="570" y2="511.6" stroke="#777" stroke-width="0.6"/>
<text x="571.6" y="515.8" font-size="11.8" fill="#4a4a4a" textLength="11.5" lengthAdjust="spacingAndGlyphs" >12</text>
<line x1="568" y1="530.8" x2="570" y2="530.8" stroke="#777" stroke-width="0.6"/>
<text x="571.6" y="535.0" font-size="11.8" fill="#4a4a4a" textLength="5.8" lengthAdjust="spacingAndGlyphs" >8</text>
<line x1="568" y1="550.0" x2="570" y2="550.0" stroke="#777" stroke-width="0.6"/>
<text x="571.6" y="554.2" font-size="11.8" fill="#4a4a4a" textLength="5.8" lengthAdjust="spacingAndGlyphs" >4</text>
<text x="0.0" y="0.0" font-size="12.0" fill="#222" textLength="119.0" lengthAdjust="spacingAndGlyphs" text-anchor="middle" transform="translate(590.3 485) rotate(90)">Rainfall forecast (mm)</text>
</svg></body></html>
